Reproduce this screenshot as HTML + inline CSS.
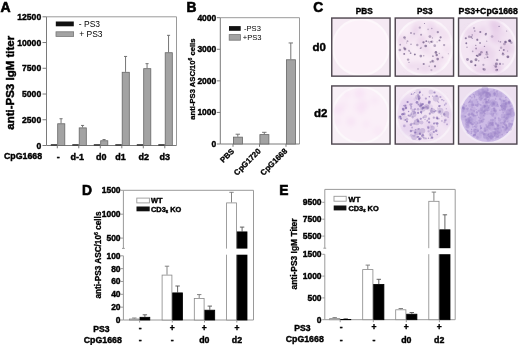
<!DOCTYPE html>
<html><head><meta charset="utf-8"><style>
html,body{margin:0;padding:0;background:#fff;}
svg{display:block;filter:blur(0.3px);}
</style></head><body>
<svg width="520" height="345" viewBox="0 0 520 345">
<rect width="520" height="345" fill="#fff"/>
<text x="0.6" y="11.7" font-family="Liberation Sans" font-weight="bold" stroke="#000" stroke-width="0.6" font-size="14" text-anchor="start" >A</text>
<line x1="46.5" y1="16.8" x2="46.5" y2="145.5" stroke="#7a7a7a" stroke-width="1"/>
<line x1="46.5" y1="16.8" x2="176.5" y2="16.8" stroke="#9a9a9a" stroke-width="1"/>
<line x1="176.5" y1="16.8" x2="176.5" y2="145.5" stroke="#9a9a9a" stroke-width="1"/>
<line x1="46.5" y1="145.5" x2="176.5" y2="145.5" stroke="#7a7a7a" stroke-width="1"/>
<line x1="42.5" y1="145.5" x2="46.5" y2="145.5" stroke="#7a7a7a" stroke-width="1"/>
<text x="41.2" y="148.6" font-family="Liberation Sans" font-weight="bold" stroke="#000" stroke-width="0.4" font-size="8.6" text-anchor="end" >0</text>
<line x1="42.5" y1="119.76" x2="46.5" y2="119.76" stroke="#7a7a7a" stroke-width="1"/>
<text x="41.2" y="122.86" font-family="Liberation Sans" font-weight="bold" stroke="#000" stroke-width="0.4" font-size="8.6" text-anchor="end" >2500</text>
<line x1="42.5" y1="94.02000000000001" x2="46.5" y2="94.02000000000001" stroke="#7a7a7a" stroke-width="1"/>
<text x="41.2" y="97.12" font-family="Liberation Sans" font-weight="bold" stroke="#000" stroke-width="0.4" font-size="8.6" text-anchor="end" >5000</text>
<line x1="42.5" y1="68.28" x2="46.5" y2="68.28" stroke="#7a7a7a" stroke-width="1"/>
<text x="41.2" y="71.38" font-family="Liberation Sans" font-weight="bold" stroke="#000" stroke-width="0.4" font-size="8.6" text-anchor="end" >7500</text>
<line x1="42.5" y1="42.540000000000006" x2="46.5" y2="42.540000000000006" stroke="#7a7a7a" stroke-width="1"/>
<text x="41.2" y="45.64000000000001" font-family="Liberation Sans" font-weight="bold" stroke="#000" stroke-width="0.4" font-size="8.6" text-anchor="end" >10000</text>
<line x1="42.5" y1="16.80000000000001" x2="46.5" y2="16.80000000000001" stroke="#7a7a7a" stroke-width="1"/>
<text x="41.2" y="19.900000000000013" font-family="Liberation Sans" font-weight="bold" stroke="#000" stroke-width="0.4" font-size="8.6" text-anchor="end" >12500</text>
<rect x="50.8" y="144.3" width="6.5" height="1.2" fill="#111" stroke="none" stroke-width="1"/>
<line x1="61.05" y1="118.7304" x2="61.05" y2="123.3636" stroke="#666" stroke-width="0.9"/>
<line x1="59.5" y1="118.7304" x2="62.599999999999994" y2="118.7304" stroke="#666" stroke-width="0.9"/>
<rect x="57.699999999999996" y="123.76360000000001" width="7.1" height="21.736399999999996" fill="#a3a3a3" stroke="#666" stroke-width="0.8"/>
<line x1="57.3" y1="145.5" x2="57.3" y2="148.3" stroke="#7a7a7a" stroke-width="1"/>
<text x="58.3" y="159.8" font-family="Liberation Sans" font-weight="bold" stroke="#000" stroke-width="0.4" font-size="9" text-anchor="middle" >-</text>
<rect x="72.3" y="144.3" width="6.5" height="1.2" fill="#111" stroke="none" stroke-width="1"/>
<line x1="82.55" y1="125.4228" x2="82.55" y2="127.482" stroke="#666" stroke-width="0.9"/>
<line x1="81.0" y1="125.4228" x2="84.1" y2="125.4228" stroke="#666" stroke-width="0.9"/>
<rect x="79.2" y="127.882" width="7.1" height="17.618000000000002" fill="#a3a3a3" stroke="#666" stroke-width="0.8"/>
<line x1="78.8" y1="145.5" x2="78.8" y2="148.3" stroke="#7a7a7a" stroke-width="1"/>
<text x="77.3" y="159.8" font-family="Liberation Sans" font-weight="bold" stroke="#000" stroke-width="0.4" font-size="9" text-anchor="middle" >d-1</text>
<rect x="93.8" y="144.3" width="6.5" height="1.2" fill="#111" stroke="none" stroke-width="1"/>
<line x1="104.05" y1="139.52832" x2="104.05" y2="140.352" stroke="#666" stroke-width="0.9"/>
<line x1="102.5" y1="139.52832" x2="105.6" y2="139.52832" stroke="#666" stroke-width="0.9"/>
<rect x="100.7" y="140.752" width="7.1" height="4.747999999999996" fill="#a3a3a3" stroke="#666" stroke-width="0.8"/>
<line x1="100.3" y1="145.5" x2="100.3" y2="148.3" stroke="#7a7a7a" stroke-width="1"/>
<text x="101.2" y="159.8" font-family="Liberation Sans" font-weight="bold" stroke="#000" stroke-width="0.4" font-size="9" text-anchor="middle" >d0</text>
<rect x="115.3" y="144.3" width="6.5" height="1.2" fill="#111" stroke="none" stroke-width="1"/>
<line x1="125.55" y1="56.43960000000001" x2="125.55" y2="71.8836" stroke="#666" stroke-width="0.9"/>
<line x1="124.0" y1="56.43960000000001" x2="127.1" y2="56.43960000000001" stroke="#666" stroke-width="0.9"/>
<rect x="122.2" y="72.2836" width="7.1" height="73.2164" fill="#a3a3a3" stroke="#666" stroke-width="0.8"/>
<line x1="121.8" y1="145.5" x2="121.8" y2="148.3" stroke="#7a7a7a" stroke-width="1"/>
<text x="120.5" y="159.8" font-family="Liberation Sans" font-weight="bold" stroke="#000" stroke-width="0.4" font-size="9" text-anchor="middle" >d1</text>
<rect x="136.8" y="144.3" width="6.5" height="1.2" fill="#111" stroke="none" stroke-width="1"/>
<line x1="147.05" y1="63.6468" x2="147.05" y2="68.28" stroke="#666" stroke-width="0.9"/>
<line x1="145.5" y1="63.6468" x2="148.60000000000002" y2="63.6468" stroke="#666" stroke-width="0.9"/>
<rect x="143.70000000000002" y="68.68" width="7.1" height="76.82" fill="#a3a3a3" stroke="#666" stroke-width="0.8"/>
<line x1="143.3" y1="145.5" x2="143.3" y2="148.3" stroke="#7a7a7a" stroke-width="1"/>
<text x="143.8" y="159.8" font-family="Liberation Sans" font-weight="bold" stroke="#000" stroke-width="0.4" font-size="9" text-anchor="middle" >d2</text>
<rect x="158.3" y="144.3" width="6.5" height="1.2" fill="#111" stroke="none" stroke-width="1"/>
<line x1="168.55" y1="35.332800000000006" x2="168.55" y2="52.321200000000005" stroke="#666" stroke-width="0.9"/>
<line x1="167.0" y1="35.332800000000006" x2="170.10000000000002" y2="35.332800000000006" stroke="#666" stroke-width="0.9"/>
<rect x="165.20000000000002" y="52.7212" width="7.1" height="92.77879999999999" fill="#a3a3a3" stroke="#666" stroke-width="0.8"/>
<line x1="164.8" y1="145.5" x2="164.8" y2="148.3" stroke="#7a7a7a" stroke-width="1"/>
<text x="164.8" y="159.8" font-family="Liberation Sans" font-weight="bold" stroke="#000" stroke-width="0.4" font-size="9" text-anchor="middle" >d3</text>
<text x="4" y="159.2" font-family="Liberation Sans" font-weight="bold" stroke="#000" stroke-width="0.4" font-size="8.8" text-anchor="start" >CpG1668</text>
<rect x="55.8" y="21.5" width="18" height="4.8" fill="#111" stroke="none" stroke-width="1"/>
<rect x="56" y="31.8" width="17.6" height="4.6" fill="#a3a3a3" stroke="#777" stroke-width="0.8"/>
<text x="78.8" y="26.6" font-family="Liberation Sans" font-size="8.5" text-anchor="start" >- PS3</text>
<text x="79.2" y="36.8" font-family="Liberation Sans" font-size="8.5" text-anchor="start" >+ PS3</text>
<text transform="translate(13.8,82.8) rotate(-90)" font-family="Liberation Sans" font-weight="bold" stroke="#000" stroke-width="0.45" font-size="11.5" text-anchor="middle">anti-PS3 IgM titer</text>
<text x="186.6" y="11.9" font-family="Liberation Sans" font-weight="bold" stroke="#000" stroke-width="0.6" font-size="13.8" text-anchor="start" >B</text>
<line x1="220.3" y1="17.7" x2="220.3" y2="144.0" stroke="#7a7a7a" stroke-width="1"/>
<line x1="220.3" y1="17.7" x2="299.5" y2="17.7" stroke="#9a9a9a" stroke-width="1"/>
<line x1="299.5" y1="17.7" x2="299.5" y2="144.0" stroke="#9a9a9a" stroke-width="1"/>
<line x1="220.3" y1="144.0" x2="299.5" y2="144.0" stroke="#7a7a7a" stroke-width="1"/>
<line x1="216.8" y1="144.0" x2="220.3" y2="144.0" stroke="#7a7a7a" stroke-width="1"/>
<text x="216.3" y="147.0" font-family="Liberation Sans" font-weight="bold" stroke="#000" stroke-width="0.4" font-size="8.5" text-anchor="end" >0</text>
<line x1="216.8" y1="112.425" x2="220.3" y2="112.425" stroke="#7a7a7a" stroke-width="1"/>
<text x="216.3" y="115.425" font-family="Liberation Sans" font-weight="bold" stroke="#000" stroke-width="0.4" font-size="8.5" text-anchor="end" >1000</text>
<line x1="216.8" y1="80.85" x2="220.3" y2="80.85" stroke="#7a7a7a" stroke-width="1"/>
<text x="216.3" y="83.85" font-family="Liberation Sans" font-weight="bold" stroke="#000" stroke-width="0.4" font-size="8.5" text-anchor="end" >2000</text>
<line x1="216.8" y1="49.275000000000006" x2="220.3" y2="49.275000000000006" stroke="#7a7a7a" stroke-width="1"/>
<text x="216.3" y="52.275000000000006" font-family="Liberation Sans" font-weight="bold" stroke="#000" stroke-width="0.4" font-size="8.5" text-anchor="end" >3000</text>
<line x1="216.8" y1="17.700000000000003" x2="220.3" y2="17.700000000000003" stroke="#7a7a7a" stroke-width="1"/>
<text x="216.3" y="20.700000000000003" font-family="Liberation Sans" font-weight="bold" stroke="#000" stroke-width="0.4" font-size="8.5" text-anchor="end" >4000</text>
<line x1="237.8" y1="134.21175" x2="237.8" y2="136.73775" stroke="#666" stroke-width="0.9"/>
<line x1="235.6" y1="134.21175" x2="240.0" y2="134.21175" stroke="#666" stroke-width="0.9"/>
<rect x="233.4" y="137.13775" width="9.0" height="6.862249999999994" fill="#a3a3a3" stroke="#666" stroke-width="0.8"/>
<line x1="233.0" y1="144.0" x2="233.0" y2="146.8" stroke="#7a7a7a" stroke-width="1"/>
<text transform="translate(234.8,151.7) rotate(-45)" font-family="Liberation Sans" font-weight="bold" stroke="#000" stroke-width="0.3" font-size="7.9" text-anchor="end">PBS</text>
<line x1="264.3" y1="132.31725" x2="264.3" y2="134.21175" stroke="#666" stroke-width="0.9"/>
<line x1="262.1" y1="132.31725" x2="266.5" y2="132.31725" stroke="#666" stroke-width="0.9"/>
<rect x="259.9" y="134.61175" width="9.0" height="9.388250000000005" fill="#a3a3a3" stroke="#666" stroke-width="0.8"/>
<line x1="259.5" y1="144.0" x2="259.5" y2="146.8" stroke="#7a7a7a" stroke-width="1"/>
<text transform="translate(261.3,151.7) rotate(-45)" font-family="Liberation Sans" font-weight="bold" stroke="#000" stroke-width="0.3" font-size="7.9" text-anchor="end">CpG1720</text>
<line x1="290.8" y1="42.959999999999994" x2="290.8" y2="59.37899999999999" stroke="#666" stroke-width="0.9"/>
<line x1="288.6" y1="42.959999999999994" x2="293.0" y2="42.959999999999994" stroke="#666" stroke-width="0.9"/>
<rect x="286.4" y="59.77899999999999" width="9.0" height="84.221" fill="#a3a3a3" stroke="#666" stroke-width="0.8"/>
<line x1="286.0" y1="144.0" x2="286.0" y2="146.8" stroke="#7a7a7a" stroke-width="1"/>
<text transform="translate(287.8,151.7) rotate(-45)" font-family="Liberation Sans" font-weight="bold" stroke="#000" stroke-width="0.3" font-size="7.9" text-anchor="end">CpG1668</text>
<rect x="229" y="26.1" width="11.7" height="4.7" fill="#111" stroke="none" stroke-width="1"/>
<rect x="229.2" y="34.6" width="11.3" height="5.6" fill="#a3a3a3" stroke="#777" stroke-width="0.8"/>
<text x="244" y="30.9" font-family="Liberation Sans" font-size="7.6" text-anchor="start" >-PS3</text>
<text x="242.8" y="40.2" font-family="Liberation Sans" font-size="7.6" text-anchor="start" >+PS3</text>
<text transform="translate(195.4,79.1) rotate(-90)" font-family="Liberation Sans" font-weight="bold" stroke="#000" stroke-width="0.3" font-size="7.65" text-anchor="middle">anti-PS3 ASC/10<tspan font-size="5" dy="-3">6</tspan><tspan dy="3"> cells</tspan></text>
<text x="313.3" y="12.2" font-family="Liberation Sans" font-weight="bold" stroke="#000" stroke-width="0.6" font-size="13.8" text-anchor="start" >C</text>
<text x="364.2" y="14.2" font-family="Liberation Sans" font-weight="bold" stroke="#000" stroke-width="0.4" font-size="8.2" text-anchor="middle" >PBS</text>
<text x="424.8" y="14.2" font-family="Liberation Sans" font-weight="bold" stroke="#000" stroke-width="0.4" font-size="8.2" text-anchor="middle" >PS3</text>
<text x="488.2" y="14.2" font-family="Liberation Sans" font-weight="bold" stroke="#000" stroke-width="0.4" font-size="8.7" text-anchor="middle" >PS3+CpG1668</text>
<text x="312.4" y="51.2" font-family="Liberation Sans" font-weight="bold" stroke="#000" stroke-width="0.4" font-size="11.5" text-anchor="start" >d0</text>
<text x="314.0" y="116.8" font-family="Liberation Sans" font-weight="bold" stroke="#000" stroke-width="0.4" font-size="11.5" text-anchor="start" >d2</text>
<defs><filter id="bl" x="-10%" y="-10%" width="120%" height="120%"><feGaussianBlur stdDeviation="0.7"/></filter><filter id="bl2" x="-20%" y="-20%" width="140%" height="140%"><feGaussianBlur stdDeviation="2.2"/></filter></defs>
<g>
<rect x="331.0" y="17.3" width="59.8" height="59.6" fill="#f5e9f3" stroke="none" stroke-width="1"/>
<g filter="url(#bl)">
<circle cx="360.9" cy="47.1" r="28.0" fill="#fcf1f9" stroke="#fdf7fb" stroke-width="2.2"/>
<g filter="url(#bl2)">
</g>
</g>
<rect x="331.75" y="18.05" width="58.3" height="58.1" fill="none" stroke="#4e474f" stroke-width="1.4"/>
</g>
<g>
<rect x="394.5" y="17.3" width="59.8" height="59.6" fill="#f3e6f2" stroke="none" stroke-width="1"/>
<g filter="url(#bl)">
<circle cx="424.4" cy="47.1" r="28.0" fill="#f8ecf6" stroke="#fbf5fa" stroke-width="2.2"/>
<g filter="url(#bl2)">
<circle cx="441.2" cy="58.9" r="4.51" fill="#e9d2ea" opacity="0.42"/>
<circle cx="429.7" cy="52.4" r="4.24" fill="#e9d2ea" opacity="0.36"/>
<circle cx="420.9" cy="41.8" r="4.67" fill="#e9d2ea" opacity="0.70"/>
<circle cx="446.9" cy="49.3" r="3.83" fill="#e9d2ea" opacity="0.41"/>
<circle cx="422.6" cy="38.0" r="3.64" fill="#e9d2ea" opacity="0.66"/>
<circle cx="425.7" cy="50.1" r="3.21" fill="#e9d2ea" opacity="0.31"/>
<circle cx="415.7" cy="28.9" r="4.03" fill="#e9d2ea" opacity="0.70"/>
<circle cx="433.1" cy="31.2" r="5.18" fill="#e9d2ea" opacity="0.62"/>
<circle cx="436.1" cy="67.4" r="4.79" fill="#e9d2ea" opacity="0.62"/>
<circle cx="437.1" cy="57.9" r="3.88" fill="#e9d2ea" opacity="0.51"/>
<circle cx="423.9" cy="68.3" r="4.00" fill="#e9d2ea" opacity="0.63"/>
<circle cx="417.1" cy="66.2" r="5.20" fill="#e9d2ea" opacity="0.48"/>
<circle cx="427.8" cy="68.1" r="4.67" fill="#e9d2ea" opacity="0.49"/>
<circle cx="410.5" cy="38.3" r="4.60" fill="#e9d2ea" opacity="0.37"/>
<circle cx="444.8" cy="35.5" r="5.23" fill="#e9d2ea" opacity="0.42"/>
<circle cx="424.6" cy="48.0" r="4.45" fill="#e9d2ea" opacity="0.54"/>
<circle cx="415.0" cy="32.5" r="4.04" fill="#e9d2ea" opacity="0.67"/>
<circle cx="430.6" cy="25.9" r="4.96" fill="#e9d2ea" opacity="0.59"/>
<circle cx="432.0" cy="35.8" r="3.18" fill="#e9d2ea" opacity="0.65"/>
<circle cx="404.7" cy="48.2" r="5.06" fill="#e9d2ea" opacity="0.40"/>
<circle cx="409.9" cy="66.1" r="3.77" fill="#e9d2ea" opacity="0.59"/>
<circle cx="401.0" cy="40.2" r="3.02" fill="#e9d2ea" opacity="0.57"/>
<circle cx="440.1" cy="30.0" r="3.05" fill="#e9d2ea" opacity="0.58"/>
<circle cx="418.7" cy="24.3" r="5.47" fill="#e9d2ea" opacity="0.36"/>
<circle cx="401.2" cy="39.3" r="4.35" fill="#e9d2ea" opacity="0.60"/>
</g>
<circle cx="405.1" cy="39.0" r="0.53" fill="#66507e" opacity="0.50"/>
<circle cx="437.7" cy="59.1" r="1.31" fill="#66507e" opacity="0.64"/>
<circle cx="442.5" cy="57.4" r="0.93" fill="#66507e" opacity="0.40"/>
<circle cx="432.4" cy="37.9" r="0.59" fill="#66507e" opacity="0.50"/>
<circle cx="428.6" cy="41.7" r="0.96" fill="#66507e" opacity="0.36"/>
<circle cx="429.7" cy="43.1" r="0.52" fill="#66507e" opacity="0.55"/>
<circle cx="404.2" cy="53.9" r="0.96" fill="#66507e" opacity="0.74"/>
<circle cx="411.0" cy="44.3" r="0.73" fill="#66507e" opacity="0.57"/>
<circle cx="430.6" cy="62.1" r="1.14" fill="#66507e" opacity="0.42"/>
<circle cx="420.6" cy="48.4" r="0.50" fill="#66507e" opacity="0.32"/>
<circle cx="419.8" cy="27.7" r="1.15" fill="#66507e" opacity="0.41"/>
<circle cx="411.0" cy="33.0" r="0.97" fill="#66507e" opacity="0.51"/>
<circle cx="414.9" cy="54.2" r="0.69" fill="#66507e" opacity="0.71"/>
<circle cx="421.1" cy="47.7" r="1.02" fill="#66507e" opacity="0.32"/>
<circle cx="420.3" cy="48.4" r="0.66" fill="#66507e" opacity="0.34"/>
<circle cx="439.5" cy="40.4" r="0.97" fill="#66507e" opacity="0.71"/>
<circle cx="429.9" cy="36.6" r="1.39" fill="#66507e" opacity="0.47"/>
<circle cx="404.5" cy="37.4" r="1.26" fill="#66507e" opacity="0.60"/>
<circle cx="400.2" cy="44.7" r="0.87" fill="#66507e" opacity="0.52"/>
<circle cx="409.8" cy="51.5" r="0.57" fill="#66507e" opacity="0.43"/>
<circle cx="418.0" cy="68.9" r="0.57" fill="#66507e" opacity="0.64"/>
<circle cx="409.0" cy="50.7" r="0.85" fill="#66507e" opacity="0.51"/>
<circle cx="437.1" cy="41.9" r="0.61" fill="#66507e" opacity="0.35"/>
<circle cx="431.4" cy="70.1" r="1.12" fill="#66507e" opacity="0.31"/>
<circle cx="432.4" cy="61.0" r="1.15" fill="#66507e" opacity="0.52"/>
<circle cx="417.3" cy="45.0" r="1.22" fill="#66507e" opacity="0.42"/>
<circle cx="425.7" cy="46.0" r="1.36" fill="#66507e" opacity="0.66"/>
<circle cx="414.2" cy="33.7" r="0.94" fill="#66507e" opacity="0.42"/>
<circle cx="420.8" cy="56.1" r="1.33" fill="#66507e" opacity="0.56"/>
<circle cx="406.7" cy="42.9" r="0.56" fill="#66507e" opacity="0.34"/>
<circle cx="431.8" cy="28.5" r="0.77" fill="#66507e" opacity="0.40"/>
<circle cx="432.9" cy="56.2" r="0.89" fill="#66507e" opacity="0.54"/>
<circle cx="405.0" cy="49.1" r="1.35" fill="#66507e" opacity="0.64"/>
<circle cx="404.2" cy="47.9" r="1.14" fill="#66507e" opacity="0.42"/>
<circle cx="444.1" cy="45.1" r="1.13" fill="#66507e" opacity="0.48"/>
<circle cx="428.1" cy="29.3" r="0.90" fill="#66507e" opacity="0.31"/>
<circle cx="429.2" cy="66.2" r="0.66" fill="#66507e" opacity="0.53"/>
<circle cx="423.5" cy="42.3" r="1.14" fill="#66507e" opacity="0.72"/>
<circle cx="434.7" cy="45.7" r="1.37" fill="#66507e" opacity="0.45"/>
<circle cx="436.7" cy="55.0" r="1.19" fill="#66507e" opacity="0.68"/>
<circle cx="410.6" cy="53.2" r="0.86" fill="#66507e" opacity="0.60"/>
<circle cx="448.3" cy="53.8" r="0.51" fill="#66507e" opacity="0.51"/>
<circle cx="435.0" cy="66.3" r="1.09" fill="#66507e" opacity="0.67"/>
<circle cx="435.9" cy="52.4" r="1.31" fill="#66507e" opacity="0.70"/>
<circle cx="437.8" cy="32.1" r="1.17" fill="#66507e" opacity="0.56"/>
<circle cx="409.0" cy="62.3" r="0.62" fill="#66507e" opacity="0.58"/>
<circle cx="421.1" cy="34.8" r="1.01" fill="#66507e" opacity="0.51"/>
<circle cx="423.7" cy="64.0" r="1.09" fill="#66507e" opacity="0.64"/>
<circle cx="423.7" cy="55.8" r="0.80" fill="#66507e" opacity="0.42"/>
<circle cx="424.5" cy="23.5" r="0.57" fill="#66507e" opacity="0.64"/>
<circle cx="408.1" cy="59.6" r="1.21" fill="#66507e" opacity="0.48"/>
<circle cx="433.1" cy="61.5" r="1.28" fill="#66507e" opacity="0.36"/>
<circle cx="407.5" cy="41.2" r="0.92" fill="#66507e" opacity="0.43"/>
<circle cx="399.9" cy="50.0" r="1.37" fill="#66507e" opacity="0.46"/>
<circle cx="426.3" cy="41.2" r="0.90" fill="#66507e" opacity="0.69"/>
<circle cx="414.8" cy="54.6" r="0.94" fill="#66507e" opacity="0.54"/>
<circle cx="440.6" cy="37.3" r="1.08" fill="#66507e" opacity="0.66"/>
<circle cx="432.1" cy="41.7" r="1.26" fill="#66507e" opacity="0.34"/>
<circle cx="431.1" cy="41.7" r="0.98" fill="#66507e" opacity="0.68"/>
<circle cx="439.3" cy="53.5" r="0.78" fill="#66507e" opacity="0.40"/>
</g>
<rect x="395.25" y="18.05" width="58.3" height="58.1" fill="none" stroke="#4e474f" stroke-width="1.4"/>
</g>
<g>
<rect x="457.8" y="17.3" width="59.8" height="59.6" fill="#efe2f0" stroke="none" stroke-width="1"/>
<g filter="url(#bl)">
<circle cx="487.7" cy="47.1" r="28.0" fill="#f3e5f3" stroke="#f9f1f9" stroke-width="2.2"/>
<g filter="url(#bl2)">
<circle cx="474.6" cy="49.3" r="3.61" fill="#e6cce8" opacity="0.54"/>
<circle cx="494.0" cy="25.4" r="2.54" fill="#e6cce8" opacity="0.63"/>
<circle cx="475.7" cy="33.8" r="5.49" fill="#e6cce8" opacity="0.49"/>
<circle cx="504.5" cy="45.9" r="4.42" fill="#e6cce8" opacity="0.36"/>
<circle cx="494.4" cy="65.5" r="4.07" fill="#e6cce8" opacity="0.60"/>
<circle cx="496.3" cy="25.3" r="4.77" fill="#e6cce8" opacity="0.54"/>
<circle cx="506.0" cy="45.7" r="4.66" fill="#e6cce8" opacity="0.65"/>
<circle cx="498.4" cy="68.2" r="3.68" fill="#e6cce8" opacity="0.62"/>
<circle cx="484.9" cy="68.9" r="5.14" fill="#e6cce8" opacity="0.34"/>
<circle cx="469.5" cy="32.9" r="5.40" fill="#e6cce8" opacity="0.47"/>
<circle cx="494.0" cy="37.2" r="4.02" fill="#e6cce8" opacity="0.45"/>
<circle cx="480.2" cy="51.4" r="4.25" fill="#e6cce8" opacity="0.66"/>
<circle cx="496.8" cy="68.5" r="5.07" fill="#e6cce8" opacity="0.70"/>
<circle cx="496.3" cy="30.3" r="5.08" fill="#e6cce8" opacity="0.69"/>
<circle cx="507.9" cy="50.6" r="4.64" fill="#e6cce8" opacity="0.38"/>
<circle cx="504.3" cy="50.8" r="3.35" fill="#e6cce8" opacity="0.33"/>
<circle cx="483.2" cy="29.6" r="3.38" fill="#e6cce8" opacity="0.61"/>
<circle cx="493.4" cy="24.3" r="4.66" fill="#e6cce8" opacity="0.43"/>
<circle cx="488.0" cy="72.0" r="3.43" fill="#e6cce8" opacity="0.33"/>
<circle cx="492.7" cy="23.7" r="3.09" fill="#e6cce8" opacity="0.46"/>
<circle cx="493.2" cy="29.9" r="2.63" fill="#e6cce8" opacity="0.65"/>
<circle cx="478.4" cy="70.0" r="5.19" fill="#e6cce8" opacity="0.45"/>
<circle cx="485.7" cy="48.1" r="4.43" fill="#e6cce8" opacity="0.54"/>
<circle cx="490.7" cy="53.1" r="5.32" fill="#e6cce8" opacity="0.50"/>
<circle cx="484.3" cy="58.1" r="3.21" fill="#e6cce8" opacity="0.42"/>
<circle cx="511.6" cy="48.2" r="4.15" fill="#e6cce8" opacity="0.30"/>
<circle cx="483.5" cy="51.1" r="2.56" fill="#e6cce8" opacity="0.55"/>
<circle cx="494.3" cy="25.1" r="4.38" fill="#e6cce8" opacity="0.49"/>
<circle cx="496.7" cy="39.7" r="4.62" fill="#e6cce8" opacity="0.60"/>
<circle cx="496.5" cy="70.3" r="3.25" fill="#e6cce8" opacity="0.48"/>
<circle cx="492.3" cy="38.1" r="3.59" fill="#e6cce8" opacity="0.43"/>
<circle cx="481.2" cy="51.9" r="3.40" fill="#e6cce8" opacity="0.45"/>
<circle cx="491.2" cy="58.9" r="3.43" fill="#e6cce8" opacity="0.39"/>
<circle cx="502.9" cy="34.0" r="3.06" fill="#e6cce8" opacity="0.47"/>
<circle cx="497.6" cy="27.2" r="3.47" fill="#e6cce8" opacity="0.43"/>
</g>
<circle cx="504.4" cy="44.0" r="1.36" fill="#60497a" opacity="0.38"/>
<circle cx="479.5" cy="54.6" r="1.38" fill="#60497a" opacity="0.50"/>
<circle cx="474.0" cy="28.1" r="1.03" fill="#60497a" opacity="0.39"/>
<circle cx="503.0" cy="64.0" r="0.68" fill="#60497a" opacity="0.43"/>
<circle cx="503.1" cy="54.2" r="1.31" fill="#60497a" opacity="0.46"/>
<circle cx="469.2" cy="36.7" r="1.29" fill="#60497a" opacity="0.42"/>
<circle cx="480.0" cy="42.9" r="0.92" fill="#60497a" opacity="0.48"/>
<circle cx="484.4" cy="69.6" r="1.43" fill="#60497a" opacity="0.40"/>
<circle cx="500.0" cy="63.9" r="1.16" fill="#60497a" opacity="0.53"/>
<circle cx="477.2" cy="39.2" r="0.73" fill="#60497a" opacity="0.33"/>
<circle cx="492.1" cy="36.5" r="1.31" fill="#60497a" opacity="0.32"/>
<circle cx="507.9" cy="56.8" r="1.42" fill="#60497a" opacity="0.70"/>
<circle cx="507.7" cy="50.9" r="0.51" fill="#60497a" opacity="0.64"/>
<circle cx="471.3" cy="37.1" r="1.16" fill="#60497a" opacity="0.54"/>
<circle cx="483.4" cy="69.1" r="1.11" fill="#60497a" opacity="0.45"/>
<circle cx="475.3" cy="65.2" r="0.98" fill="#60497a" opacity="0.65"/>
<circle cx="480.3" cy="32.0" r="1.03" fill="#60497a" opacity="0.67"/>
<circle cx="471.3" cy="61.7" r="1.42" fill="#60497a" opacity="0.66"/>
<circle cx="494.1" cy="65.2" r="0.55" fill="#60497a" opacity="0.42"/>
<circle cx="476.1" cy="48.5" r="0.92" fill="#60497a" opacity="0.51"/>
<circle cx="467.0" cy="47.2" r="0.82" fill="#60497a" opacity="0.44"/>
<circle cx="480.3" cy="54.4" r="1.09" fill="#60497a" opacity="0.46"/>
<circle cx="472.3" cy="38.5" r="0.62" fill="#60497a" opacity="0.55"/>
<circle cx="498.5" cy="41.1" r="0.58" fill="#60497a" opacity="0.38"/>
<circle cx="481.4" cy="52.3" r="1.28" fill="#60497a" opacity="0.47"/>
<circle cx="502.8" cy="53.2" r="0.93" fill="#60497a" opacity="0.47"/>
<circle cx="487.5" cy="57.2" r="0.92" fill="#60497a" opacity="0.61"/>
<circle cx="485.7" cy="34.4" r="1.04" fill="#60497a" opacity="0.61"/>
<circle cx="466.3" cy="43.3" r="0.93" fill="#60497a" opacity="0.70"/>
<circle cx="509.5" cy="40.8" r="1.40" fill="#60497a" opacity="0.66"/>
<circle cx="475.8" cy="45.3" r="0.62" fill="#60497a" opacity="0.67"/>
<circle cx="495.8" cy="66.5" r="1.29" fill="#60497a" opacity="0.60"/>
<circle cx="499.4" cy="50.3" r="0.60" fill="#60497a" opacity="0.56"/>
<circle cx="506.7" cy="31.1" r="0.52" fill="#60497a" opacity="0.68"/>
<circle cx="496.4" cy="63.9" r="1.45" fill="#60497a" opacity="0.56"/>
<circle cx="501.1" cy="47.7" r="1.22" fill="#60497a" opacity="0.35"/>
<circle cx="465.8" cy="38.3" r="1.06" fill="#60497a" opacity="0.67"/>
<circle cx="474.8" cy="31.1" r="0.75" fill="#60497a" opacity="0.58"/>
<circle cx="500.4" cy="41.8" r="0.87" fill="#60497a" opacity="0.48"/>
<circle cx="480.2" cy="43.0" r="0.58" fill="#60497a" opacity="0.53"/>
<circle cx="511.4" cy="42.7" r="1.25" fill="#60497a" opacity="0.37"/>
<circle cx="497.2" cy="59.9" r="1.17" fill="#60497a" opacity="0.53"/>
<circle cx="486.9" cy="54.2" r="1.40" fill="#60497a" opacity="0.37"/>
<circle cx="467.5" cy="59.5" r="1.42" fill="#60497a" opacity="0.53"/>
<circle cx="484.9" cy="58.0" r="0.69" fill="#60497a" opacity="0.42"/>
<circle cx="472.7" cy="51.4" r="0.81" fill="#60497a" opacity="0.40"/>
<circle cx="497.3" cy="69.8" r="0.80" fill="#60497a" opacity="0.62"/>
<circle cx="483.4" cy="64.8" r="1.08" fill="#60497a" opacity="0.42"/>
<circle cx="486.7" cy="41.2" r="0.67" fill="#60497a" opacity="0.46"/>
<circle cx="478.8" cy="60.8" r="0.64" fill="#60497a" opacity="0.75"/>
<circle cx="486.7" cy="52.1" r="0.97" fill="#60497a" opacity="0.68"/>
<circle cx="503.8" cy="50.0" r="0.98" fill="#60497a" opacity="0.62"/>
<circle cx="505.5" cy="42.1" r="1.23" fill="#60497a" opacity="0.73"/>
<circle cx="486.1" cy="33.6" r="0.73" fill="#60497a" opacity="0.62"/>
<circle cx="496.5" cy="70.0" r="1.35" fill="#60497a" opacity="0.41"/>
<circle cx="472.2" cy="35.0" r="0.69" fill="#60497a" opacity="0.62"/>
<circle cx="475.5" cy="65.4" r="0.81" fill="#60497a" opacity="0.49"/>
<circle cx="499.1" cy="26.4" r="0.59" fill="#60497a" opacity="0.68"/>
<circle cx="477.3" cy="39.9" r="1.08" fill="#60497a" opacity="0.60"/>
<circle cx="484.5" cy="46.4" r="0.71" fill="#60497a" opacity="0.56"/>
<circle cx="510.5" cy="41.6" r="1.04" fill="#60497a" opacity="0.35"/>
<circle cx="476.4" cy="55.4" r="0.61" fill="#60497a" opacity="0.70"/>
<circle cx="509.8" cy="40.8" r="1.27" fill="#60497a" opacity="0.64"/>
<circle cx="477.5" cy="55.9" r="1.15" fill="#60497a" opacity="0.66"/>
<circle cx="476.0" cy="59.8" r="1.46" fill="#60497a" opacity="0.60"/>
</g>
<rect x="458.55" y="18.05" width="58.3" height="58.1" fill="none" stroke="#4e474f" stroke-width="1.4"/>
</g>
<g>
<rect x="331.0" y="85.2" width="59.8" height="59.6" fill="#f8f0f7" stroke="none" stroke-width="1"/>
<g filter="url(#bl)">
<circle cx="360.9" cy="115.0" r="28.0" fill="#faeff8" stroke="#fcf8fb" stroke-width="2.2"/>
<g filter="url(#bl2)">
<circle cx="347.2" cy="94.4" r="3.69" fill="#f6dff4" opacity="0.36"/>
<circle cx="338.4" cy="109.9" r="5.25" fill="#f6dff4" opacity="0.62"/>
<circle cx="374.7" cy="100.5" r="4.11" fill="#f6dff4" opacity="0.41"/>
<circle cx="378.0" cy="130.9" r="4.90" fill="#f6dff4" opacity="0.38"/>
<circle cx="351.0" cy="121.6" r="4.70" fill="#f6dff4" opacity="0.64"/>
<circle cx="366.4" cy="123.9" r="4.02" fill="#f6dff4" opacity="0.37"/>
<circle cx="359.5" cy="93.6" r="5.30" fill="#f6dff4" opacity="0.65"/>
<circle cx="363.4" cy="104.6" r="5.23" fill="#f6dff4" opacity="0.53"/>
<circle cx="361.3" cy="110.5" r="4.30" fill="#f6dff4" opacity="0.47"/>
<circle cx="343.3" cy="104.9" r="4.94" fill="#f6dff4" opacity="0.32"/>
<circle cx="337.3" cy="121.6" r="3.34" fill="#f6dff4" opacity="0.51"/>
<circle cx="359.4" cy="106.8" r="5.49" fill="#f6dff4" opacity="0.38"/>
</g>
</g>
<rect x="331.75" y="85.95" width="58.3" height="58.1" fill="none" stroke="#4e474f" stroke-width="1.4"/>
</g>
<g>
<rect x="394.5" y="85.2" width="59.8" height="59.6" fill="#f3e7f3" stroke="none" stroke-width="1"/>
<g filter="url(#bl)">
<circle cx="424.4" cy="115.0" r="28.0" fill="#f2e4f3" stroke="#f8f1f8" stroke-width="2.2"/>
<g filter="url(#bl2)">
<circle cx="430.5" cy="127.1" r="4.89" fill="#e4d0ee" opacity="0.68"/>
<circle cx="436.4" cy="136.1" r="2.59" fill="#e4d0ee" opacity="0.49"/>
<circle cx="446.6" cy="122.4" r="5.20" fill="#e4d0ee" opacity="0.35"/>
<circle cx="422.9" cy="102.3" r="4.13" fill="#e4d0ee" opacity="0.53"/>
<circle cx="413.4" cy="135.8" r="4.80" fill="#e4d0ee" opacity="0.36"/>
<circle cx="439.3" cy="96.9" r="4.35" fill="#e4d0ee" opacity="0.35"/>
<circle cx="409.9" cy="100.8" r="5.45" fill="#e4d0ee" opacity="0.65"/>
<circle cx="426.4" cy="123.9" r="3.11" fill="#e4d0ee" opacity="0.68"/>
<circle cx="444.1" cy="104.9" r="3.58" fill="#e4d0ee" opacity="0.37"/>
<circle cx="414.5" cy="120.2" r="2.51" fill="#e4d0ee" opacity="0.57"/>
<circle cx="416.3" cy="105.5" r="4.96" fill="#e4d0ee" opacity="0.49"/>
<circle cx="415.2" cy="114.1" r="4.61" fill="#e4d0ee" opacity="0.32"/>
<circle cx="436.9" cy="132.2" r="2.55" fill="#e4d0ee" opacity="0.62"/>
<circle cx="417.7" cy="118.9" r="2.53" fill="#e4d0ee" opacity="0.32"/>
<circle cx="409.2" cy="127.8" r="5.29" fill="#e4d0ee" opacity="0.68"/>
<circle cx="416.6" cy="107.7" r="4.07" fill="#e4d0ee" opacity="0.61"/>
<circle cx="404.8" cy="127.4" r="4.89" fill="#e4d0ee" opacity="0.64"/>
<circle cx="404.0" cy="107.0" r="4.33" fill="#e4d0ee" opacity="0.67"/>
<circle cx="416.4" cy="136.2" r="4.14" fill="#e4d0ee" opacity="0.42"/>
<circle cx="415.2" cy="98.9" r="2.73" fill="#e4d0ee" opacity="0.36"/>
<circle cx="448.7" cy="116.7" r="3.72" fill="#e4d0ee" opacity="0.39"/>
<circle cx="429.1" cy="131.3" r="3.87" fill="#e4d0ee" opacity="0.47"/>
<circle cx="401.0" cy="114.7" r="5.02" fill="#e4d0ee" opacity="0.35"/>
<circle cx="430.9" cy="129.4" r="2.82" fill="#e4d0ee" opacity="0.47"/>
<circle cx="406.9" cy="132.2" r="3.38" fill="#e4d0ee" opacity="0.48"/>
<circle cx="448.2" cy="112.7" r="3.96" fill="#e4d0ee" opacity="0.59"/>
<circle cx="423.4" cy="104.6" r="3.71" fill="#e4d0ee" opacity="0.36"/>
<circle cx="447.4" cy="121.3" r="4.00" fill="#e4d0ee" opacity="0.44"/>
<circle cx="403.9" cy="103.6" r="4.85" fill="#e4d0ee" opacity="0.65"/>
<circle cx="417.5" cy="129.3" r="4.82" fill="#e4d0ee" opacity="0.58"/>
</g>
<circle cx="432.6" cy="128.0" r="2.23" fill="#7d64ac" opacity="0.28"/>
<circle cx="413.4" cy="114.3" r="3.04" fill="#7d64ac" opacity="0.27"/>
<circle cx="414.1" cy="137.3" r="2.80" fill="#7d64ac" opacity="0.25"/>
<circle cx="400.0" cy="117.3" r="2.00" fill="#7d64ac" opacity="0.27"/>
<circle cx="422.5" cy="130.8" r="2.79" fill="#7d64ac" opacity="0.30"/>
<circle cx="416.8" cy="122.2" r="2.98" fill="#7d64ac" opacity="0.31"/>
<circle cx="416.9" cy="132.1" r="3.24" fill="#7d64ac" opacity="0.27"/>
<circle cx="425.3" cy="116.5" r="1.83" fill="#7d64ac" opacity="0.31"/>
<circle cx="446.3" cy="113.9" r="2.88" fill="#7d64ac" opacity="0.28"/>
<circle cx="435.9" cy="98.6" r="3.06" fill="#7d64ac" opacity="0.25"/>
<circle cx="432.7" cy="111.0" r="2.75" fill="#7d64ac" opacity="0.29"/>
<circle cx="431.2" cy="126.0" r="1.56" fill="#7d64ac" opacity="0.14"/>
<circle cx="421.5" cy="122.5" r="1.94" fill="#7d64ac" opacity="0.27"/>
<circle cx="430.9" cy="92.1" r="2.44" fill="#7d64ac" opacity="0.16"/>
<circle cx="415.3" cy="99.1" r="1.89" fill="#7d64ac" opacity="0.11"/>
<circle cx="422.7" cy="109.0" r="2.72" fill="#7d64ac" opacity="0.25"/>
<circle cx="411.3" cy="135.2" r="1.50" fill="#7d64ac" opacity="0.20"/>
<circle cx="413.3" cy="110.5" r="1.73" fill="#7d64ac" opacity="0.31"/>
<circle cx="418.1" cy="91.8" r="2.73" fill="#7d64ac" opacity="0.12"/>
<circle cx="426.7" cy="107.0" r="2.66" fill="#7d64ac" opacity="0.34"/>
<circle cx="440.3" cy="111.0" r="3.13" fill="#7d64ac" opacity="0.26"/>
<circle cx="417.9" cy="97.1" r="2.69" fill="#7d64ac" opacity="0.24"/>
<circle cx="429.8" cy="107.6" r="3.29" fill="#7d64ac" opacity="0.10"/>
<circle cx="404.8" cy="118.3" r="2.73" fill="#7d64ac" opacity="0.14"/>
<circle cx="430.9" cy="134.6" r="2.25" fill="#7d64ac" opacity="0.21"/>
<circle cx="410.7" cy="104.6" r="1.38" fill="#7d64ac" opacity="0.47"/>
<circle cx="429.2" cy="103.0" r="1.38" fill="#7d64ac" opacity="0.52"/>
<circle cx="420.2" cy="106.0" r="1.39" fill="#7d64ac" opacity="0.52"/>
<circle cx="413.7" cy="113.8" r="0.61" fill="#7d64ac" opacity="0.58"/>
<circle cx="421.6" cy="104.7" r="1.20" fill="#7d64ac" opacity="0.67"/>
<circle cx="400.1" cy="116.6" r="0.75" fill="#7d64ac" opacity="0.72"/>
<circle cx="438.5" cy="102.3" r="0.74" fill="#7d64ac" opacity="0.37"/>
<circle cx="429.8" cy="113.7" r="1.08" fill="#7d64ac" opacity="0.57"/>
<circle cx="436.6" cy="95.9" r="1.18" fill="#7d64ac" opacity="0.44"/>
<circle cx="426.1" cy="106.8" r="0.77" fill="#7d64ac" opacity="0.54"/>
<circle cx="422.6" cy="108.1" r="1.17" fill="#7d64ac" opacity="0.57"/>
<circle cx="422.2" cy="135.8" r="1.30" fill="#7d64ac" opacity="0.55"/>
<circle cx="420.8" cy="118.8" r="1.14" fill="#7d64ac" opacity="0.58"/>
<circle cx="423.5" cy="135.6" r="0.85" fill="#7d64ac" opacity="0.48"/>
<circle cx="442.0" cy="99.8" r="0.77" fill="#7d64ac" opacity="0.67"/>
<circle cx="434.1" cy="111.6" r="0.76" fill="#7d64ac" opacity="0.65"/>
<circle cx="423.3" cy="117.5" r="0.95" fill="#7d64ac" opacity="0.45"/>
<circle cx="407.1" cy="119.3" r="1.23" fill="#7d64ac" opacity="0.33"/>
<circle cx="410.9" cy="131.0" r="1.21" fill="#7d64ac" opacity="0.60"/>
<circle cx="434.5" cy="92.4" r="1.26" fill="#7d64ac" opacity="0.40"/>
<circle cx="431.7" cy="137.6" r="1.14" fill="#7d64ac" opacity="0.36"/>
<circle cx="414.0" cy="135.9" r="0.63" fill="#7d64ac" opacity="0.57"/>
<circle cx="420.1" cy="98.1" r="1.06" fill="#7d64ac" opacity="0.32"/>
<circle cx="404.8" cy="109.0" r="0.56" fill="#7d64ac" opacity="0.33"/>
<circle cx="428.2" cy="127.1" r="1.29" fill="#7d64ac" opacity="0.36"/>
<circle cx="421.0" cy="105.7" r="1.04" fill="#7d64ac" opacity="0.52"/>
<circle cx="446.3" cy="108.7" r="0.55" fill="#7d64ac" opacity="0.61"/>
<circle cx="407.0" cy="121.6" r="0.96" fill="#7d64ac" opacity="0.71"/>
<circle cx="427.1" cy="121.0" r="0.74" fill="#7d64ac" opacity="0.55"/>
<circle cx="412.1" cy="127.5" r="0.97" fill="#7d64ac" opacity="0.36"/>
<circle cx="411.1" cy="108.6" r="1.16" fill="#7d64ac" opacity="0.38"/>
<circle cx="435.1" cy="122.8" r="0.58" fill="#7d64ac" opacity="0.60"/>
<circle cx="429.1" cy="101.9" r="1.29" fill="#7d64ac" opacity="0.52"/>
<circle cx="415.6" cy="129.8" r="0.53" fill="#7d64ac" opacity="0.63"/>
<circle cx="447.0" cy="124.1" r="0.70" fill="#7d64ac" opacity="0.35"/>
<circle cx="440.4" cy="97.0" r="1.06" fill="#7d64ac" opacity="0.46"/>
<circle cx="411.2" cy="106.7" r="1.05" fill="#7d64ac" opacity="0.46"/>
<circle cx="418.7" cy="96.8" r="1.25" fill="#7d64ac" opacity="0.59"/>
<circle cx="439.6" cy="111.7" r="1.27" fill="#7d64ac" opacity="0.53"/>
<circle cx="429.0" cy="118.7" r="1.17" fill="#7d64ac" opacity="0.48"/>
<circle cx="443.9" cy="114.0" r="1.18" fill="#7d64ac" opacity="0.30"/>
<circle cx="422.9" cy="134.5" r="1.06" fill="#7d64ac" opacity="0.49"/>
<circle cx="422.7" cy="95.0" r="0.64" fill="#7d64ac" opacity="0.37"/>
<circle cx="418.1" cy="109.3" r="1.29" fill="#7d64ac" opacity="0.37"/>
<circle cx="412.1" cy="103.9" r="0.65" fill="#7d64ac" opacity="0.43"/>
<circle cx="411.2" cy="114.1" r="0.53" fill="#7d64ac" opacity="0.72"/>
<circle cx="417.8" cy="136.9" r="1.12" fill="#7d64ac" opacity="0.60"/>
<circle cx="423.0" cy="137.3" r="0.61" fill="#7d64ac" opacity="0.60"/>
<circle cx="414.0" cy="123.7" r="1.16" fill="#7d64ac" opacity="0.37"/>
<circle cx="419.5" cy="138.7" r="0.83" fill="#7d64ac" opacity="0.44"/>
<circle cx="422.8" cy="104.2" r="1.16" fill="#7d64ac" opacity="0.62"/>
<circle cx="407.6" cy="102.0" r="1.10" fill="#7d64ac" opacity="0.72"/>
<circle cx="431.7" cy="111.5" r="1.38" fill="#7d64ac" opacity="0.30"/>
<circle cx="419.9" cy="92.2" r="0.99" fill="#7d64ac" opacity="0.75"/>
<circle cx="425.3" cy="107.5" r="0.58" fill="#7d64ac" opacity="0.33"/>
<circle cx="444.3" cy="114.6" r="1.34" fill="#7d64ac" opacity="0.32"/>
<circle cx="419.3" cy="93.0" r="0.73" fill="#7d64ac" opacity="0.48"/>
<circle cx="414.7" cy="92.6" r="0.53" fill="#7d64ac" opacity="0.74"/>
<circle cx="408.4" cy="115.4" r="0.86" fill="#7d64ac" opacity="0.54"/>
<circle cx="403.6" cy="105.7" r="0.60" fill="#7d64ac" opacity="0.54"/>
<circle cx="445.5" cy="119.9" r="1.27" fill="#7d64ac" opacity="0.40"/>
<circle cx="400.3" cy="117.0" r="0.94" fill="#7d64ac" opacity="0.56"/>
<circle cx="418.2" cy="121.3" r="1.15" fill="#7d64ac" opacity="0.71"/>
<circle cx="414.8" cy="112.5" r="1.24" fill="#7d64ac" opacity="0.40"/>
<circle cx="405.2" cy="105.6" r="0.58" fill="#7d64ac" opacity="0.65"/>
<circle cx="440.4" cy="105.6" r="0.62" fill="#7d64ac" opacity="0.34"/>
<circle cx="411.6" cy="94.2" r="0.89" fill="#7d64ac" opacity="0.56"/>
<circle cx="434.4" cy="92.4" r="0.68" fill="#7d64ac" opacity="0.43"/>
<circle cx="418.1" cy="94.9" r="0.88" fill="#7d64ac" opacity="0.44"/>
<circle cx="437.0" cy="117.8" r="1.31" fill="#7d64ac" opacity="0.59"/>
<circle cx="437.4" cy="118.7" r="0.90" fill="#7d64ac" opacity="0.67"/>
<circle cx="432.2" cy="137.7" r="1.16" fill="#7d64ac" opacity="0.62"/>
<circle cx="412.8" cy="130.6" r="0.84" fill="#7d64ac" opacity="0.36"/>
<circle cx="412.5" cy="123.8" r="0.76" fill="#7d64ac" opacity="0.33"/>
<circle cx="437.6" cy="117.9" r="0.52" fill="#7d64ac" opacity="0.32"/>
<circle cx="405.9" cy="107.9" r="1.27" fill="#7d64ac" opacity="0.73"/>
<circle cx="430.0" cy="101.6" r="0.89" fill="#7d64ac" opacity="0.46"/>
<circle cx="428.6" cy="131.3" r="1.15" fill="#7d64ac" opacity="0.34"/>
<circle cx="425.9" cy="98.6" r="1.14" fill="#7d64ac" opacity="0.50"/>
<circle cx="405.3" cy="105.9" r="1.32" fill="#7d64ac" opacity="0.51"/>
<circle cx="421.1" cy="112.1" r="1.19" fill="#7d64ac" opacity="0.72"/>
<circle cx="426.0" cy="138.5" r="1.04" fill="#7d64ac" opacity="0.35"/>
<circle cx="440.1" cy="111.0" r="0.55" fill="#7d64ac" opacity="0.74"/>
<circle cx="401.0" cy="118.8" r="0.93" fill="#7d64ac" opacity="0.70"/>
<circle cx="419.0" cy="100.8" r="0.75" fill="#7d64ac" opacity="0.39"/>
<circle cx="427.5" cy="107.8" r="1.18" fill="#7d64ac" opacity="0.41"/>
<circle cx="417.0" cy="102.4" r="1.38" fill="#7d64ac" opacity="0.68"/>
<circle cx="441.9" cy="120.9" r="0.86" fill="#7d64ac" opacity="0.36"/>
<circle cx="441.0" cy="114.5" r="0.53" fill="#7d64ac" opacity="0.38"/>
<circle cx="404.3" cy="125.9" r="1.31" fill="#7d64ac" opacity="0.39"/>
<circle cx="439.3" cy="106.2" r="1.11" fill="#7d64ac" opacity="0.69"/>
<circle cx="430.6" cy="130.0" r="0.84" fill="#7d64ac" opacity="0.30"/>
<circle cx="425.0" cy="119.3" r="0.67" fill="#7d64ac" opacity="0.48"/>
<circle cx="415.0" cy="109.1" r="0.93" fill="#7d64ac" opacity="0.62"/>
<circle cx="419.4" cy="139.1" r="1.23" fill="#7d64ac" opacity="0.72"/>
<circle cx="434.0" cy="123.5" r="0.98" fill="#7d64ac" opacity="0.66"/>
<circle cx="417.5" cy="119.7" r="1.11" fill="#7d64ac" opacity="0.53"/>
<circle cx="413.6" cy="93.9" r="0.58" fill="#7d64ac" opacity="0.46"/>
<circle cx="428.4" cy="128.0" r="1.14" fill="#7d64ac" opacity="0.44"/>
<circle cx="445.9" cy="103.7" r="1.14" fill="#7d64ac" opacity="0.33"/>
<circle cx="437.1" cy="123.5" r="1.36" fill="#7d64ac" opacity="0.70"/>
<circle cx="433.8" cy="131.9" r="1.16" fill="#7d64ac" opacity="0.57"/>
<circle cx="409.8" cy="115.8" r="1.31" fill="#7d64ac" opacity="0.41"/>
<circle cx="448.1" cy="117.2" r="0.85" fill="#7d64ac" opacity="0.30"/>
<circle cx="418.9" cy="98.9" r="1.09" fill="#7d64ac" opacity="0.70"/>
<circle cx="444.9" cy="120.7" r="0.85" fill="#7d64ac" opacity="0.35"/>
<circle cx="433.8" cy="117.7" r="1.14" fill="#7d64ac" opacity="0.47"/>
<circle cx="443.7" cy="100.6" r="0.78" fill="#7d64ac" opacity="0.42"/>
<circle cx="430.5" cy="134.9" r="0.65" fill="#7d64ac" opacity="0.58"/>
<circle cx="437.7" cy="101.2" r="0.56" fill="#7d64ac" opacity="0.55"/>
<circle cx="435.8" cy="110.8" r="0.88" fill="#7d64ac" opacity="0.54"/>
<circle cx="444.6" cy="105.1" r="0.75" fill="#7d64ac" opacity="0.57"/>
<circle cx="427.5" cy="120.2" r="0.67" fill="#7d64ac" opacity="0.39"/>
<circle cx="429.1" cy="122.3" r="1.12" fill="#7d64ac" opacity="0.63"/>
<circle cx="402.5" cy="114.2" r="1.25" fill="#7d64ac" opacity="0.73"/>
<circle cx="415.3" cy="132.5" r="1.08" fill="#7d64ac" opacity="0.72"/>
<circle cx="410.9" cy="124.8" r="1.26" fill="#7d64ac" opacity="0.51"/>
<circle cx="407.0" cy="120.8" r="0.59" fill="#7d64ac" opacity="0.64"/>
<circle cx="436.2" cy="130.8" r="1.22" fill="#7d64ac" opacity="0.62"/>
<circle cx="430.7" cy="138.3" r="0.59" fill="#7d64ac" opacity="0.35"/>
<circle cx="418.1" cy="112.9" r="1.11" fill="#7d64ac" opacity="0.63"/>
<circle cx="403.6" cy="110.2" r="0.99" fill="#7d64ac" opacity="0.47"/>
<circle cx="405.3" cy="119.9" r="0.84" fill="#7d64ac" opacity="0.61"/>
<circle cx="424.2" cy="138.1" r="1.35" fill="#7d64ac" opacity="0.33"/>
<circle cx="437.4" cy="126.1" r="0.77" fill="#7d64ac" opacity="0.35"/>
<circle cx="423.4" cy="107.7" r="1.16" fill="#7d64ac" opacity="0.71"/>
<circle cx="418.5" cy="104.5" r="0.95" fill="#7d64ac" opacity="0.61"/>
<circle cx="438.9" cy="118.8" r="0.77" fill="#7d64ac" opacity="0.45"/>
<circle cx="441.8" cy="116.0" r="0.55" fill="#7d64ac" opacity="0.49"/>
<circle cx="411.3" cy="123.3" r="0.57" fill="#7d64ac" opacity="0.42"/>
<circle cx="404.2" cy="113.9" r="1.39" fill="#7d64ac" opacity="0.54"/>
<circle cx="418.7" cy="136.7" r="0.58" fill="#7d64ac" opacity="0.46"/>
<circle cx="437.7" cy="108.1" r="0.51" fill="#7d64ac" opacity="0.41"/>
<circle cx="422.3" cy="109.1" r="0.97" fill="#7d64ac" opacity="0.32"/>
<circle cx="421.5" cy="113.6" r="0.58" fill="#7d64ac" opacity="0.43"/>
<circle cx="447.1" cy="124.4" r="0.96" fill="#7d64ac" opacity="0.32"/>
<circle cx="419.0" cy="128.9" r="0.89" fill="#7d64ac" opacity="0.57"/>
<circle cx="444.5" cy="122.3" r="1.07" fill="#7d64ac" opacity="0.32"/>
<circle cx="420.1" cy="133.7" r="1.24" fill="#7d64ac" opacity="0.71"/>
<circle cx="437.2" cy="134.6" r="0.63" fill="#7d64ac" opacity="0.65"/>
<circle cx="420.5" cy="138.6" r="1.39" fill="#7d64ac" opacity="0.40"/>
<circle cx="420.5" cy="103.5" r="0.92" fill="#7d64ac" opacity="0.43"/>
<circle cx="432.7" cy="96.2" r="0.65" fill="#7d64ac" opacity="0.51"/>
<circle cx="403.1" cy="109.1" r="1.31" fill="#7d64ac" opacity="0.70"/>
<circle cx="429.3" cy="96.8" r="0.71" fill="#7d64ac" opacity="0.71"/>
<circle cx="408.6" cy="111.5" r="0.74" fill="#7d64ac" opacity="0.64"/>
<circle cx="418.0" cy="128.8" r="0.64" fill="#7d64ac" opacity="0.53"/>
<circle cx="431.6" cy="108.7" r="0.83" fill="#7d64ac" opacity="0.51"/>
<circle cx="428.5" cy="138.3" r="0.72" fill="#7d64ac" opacity="0.56"/>
<circle cx="412.6" cy="117.3" r="1.16" fill="#7d64ac" opacity="0.36"/>
</g>
<rect x="395.25" y="85.95" width="58.3" height="58.1" fill="none" stroke="#4e474f" stroke-width="1.4"/>
</g>
<g>
<rect x="457.8" y="85.2" width="59.8" height="59.6" fill="#ede0f0" stroke="none" stroke-width="1"/>
<g filter="url(#bl)">
<circle cx="487.7" cy="115.0" r="28.0" fill="#cdbbe6" stroke="#f1e8f5" stroke-width="2.2"/>
<g filter="url(#bl2)">
</g>
<circle cx="503.0" cy="131.7" r="2.47" fill="#9880c6" opacity="0.17"/>
<circle cx="486.2" cy="128.5" r="2.25" fill="#9880c6" opacity="0.29"/>
<circle cx="475.9" cy="130.7" r="2.96" fill="#9880c6" opacity="0.20"/>
<circle cx="489.7" cy="124.5" r="1.89" fill="#9880c6" opacity="0.24"/>
<circle cx="503.6" cy="102.8" r="3.11" fill="#9880c6" opacity="0.27"/>
<circle cx="505.6" cy="106.5" r="1.69" fill="#9880c6" opacity="0.30"/>
<circle cx="503.5" cy="112.2" r="1.69" fill="#9880c6" opacity="0.15"/>
<circle cx="494.7" cy="104.1" r="3.40" fill="#9880c6" opacity="0.25"/>
<circle cx="472.1" cy="123.1" r="2.22" fill="#9880c6" opacity="0.33"/>
<circle cx="509.0" cy="115.8" r="2.79" fill="#9880c6" opacity="0.27"/>
<circle cx="463.2" cy="107.8" r="2.70" fill="#9880c6" opacity="0.18"/>
<circle cx="492.3" cy="93.7" r="3.26" fill="#9880c6" opacity="0.23"/>
<circle cx="467.8" cy="123.5" r="2.12" fill="#9880c6" opacity="0.15"/>
<circle cx="486.9" cy="96.2" r="1.92" fill="#9880c6" opacity="0.32"/>
<circle cx="479.0" cy="136.0" r="2.74" fill="#9880c6" opacity="0.18"/>
<circle cx="481.3" cy="109.2" r="1.75" fill="#9880c6" opacity="0.35"/>
<circle cx="464.5" cy="111.0" r="2.99" fill="#9880c6" opacity="0.20"/>
<circle cx="496.6" cy="135.3" r="2.39" fill="#9880c6" opacity="0.31"/>
<circle cx="503.1" cy="115.9" r="2.44" fill="#9880c6" opacity="0.28"/>
<circle cx="483.0" cy="93.5" r="2.99" fill="#9880c6" opacity="0.17"/>
<circle cx="487.1" cy="129.8" r="1.84" fill="#9880c6" opacity="0.11"/>
<circle cx="468.1" cy="119.6" r="2.22" fill="#9880c6" opacity="0.16"/>
<circle cx="485.2" cy="137.2" r="2.01" fill="#9880c6" opacity="0.20"/>
<circle cx="507.4" cy="120.8" r="2.04" fill="#9880c6" opacity="0.22"/>
<circle cx="486.6" cy="96.4" r="2.25" fill="#9880c6" opacity="0.18"/>
<circle cx="503.5" cy="105.8" r="2.82" fill="#9880c6" opacity="0.34"/>
<circle cx="509.7" cy="108.6" r="2.71" fill="#9880c6" opacity="0.18"/>
<circle cx="482.4" cy="114.4" r="3.09" fill="#9880c6" opacity="0.33"/>
<circle cx="485.1" cy="92.0" r="1.56" fill="#9880c6" opacity="0.29"/>
<circle cx="467.5" cy="126.4" r="2.22" fill="#9880c6" opacity="0.33"/>
<circle cx="493.6" cy="110.9" r="3.06" fill="#9880c6" opacity="0.30"/>
<circle cx="487.3" cy="113.4" r="1.70" fill="#9880c6" opacity="0.19"/>
<circle cx="469.2" cy="121.5" r="2.71" fill="#9880c6" opacity="0.14"/>
<circle cx="494.4" cy="94.1" r="1.71" fill="#9880c6" opacity="0.26"/>
<circle cx="485.8" cy="135.8" r="2.76" fill="#9880c6" opacity="0.28"/>
<circle cx="468.3" cy="132.3" r="1.67" fill="#9880c6" opacity="0.25"/>
<circle cx="508.2" cy="112.5" r="2.89" fill="#9880c6" opacity="0.30"/>
<circle cx="509.0" cy="111.9" r="3.06" fill="#9880c6" opacity="0.21"/>
<circle cx="476.1" cy="126.0" r="1.63" fill="#9880c6" opacity="0.30"/>
<circle cx="506.3" cy="103.6" r="3.43" fill="#9880c6" opacity="0.21"/>
<circle cx="494.9" cy="116.8" r="1.57" fill="#9880c6" opacity="0.14"/>
<circle cx="481.0" cy="91.7" r="3.49" fill="#9880c6" opacity="0.29"/>
<circle cx="511.1" cy="125.4" r="2.19" fill="#9880c6" opacity="0.12"/>
<circle cx="499.7" cy="94.9" r="2.59" fill="#9880c6" opacity="0.22"/>
<circle cx="487.4" cy="92.9" r="1.65" fill="#9880c6" opacity="0.23"/>
<circle cx="463.3" cy="116.3" r="1.80" fill="#9880c6" opacity="0.17"/>
<circle cx="469.6" cy="118.6" r="2.28" fill="#9880c6" opacity="0.16"/>
<circle cx="473.2" cy="118.3" r="3.32" fill="#9880c6" opacity="0.20"/>
<circle cx="470.2" cy="105.5" r="1.98" fill="#9880c6" opacity="0.24"/>
<circle cx="502.6" cy="118.6" r="1.88" fill="#9880c6" opacity="0.18"/>
<circle cx="481.5" cy="111.9" r="2.30" fill="#9880c6" opacity="0.35"/>
<circle cx="490.4" cy="123.4" r="2.93" fill="#9880c6" opacity="0.26"/>
<circle cx="503.6" cy="108.4" r="2.83" fill="#9880c6" opacity="0.34"/>
<circle cx="470.2" cy="121.5" r="2.27" fill="#9880c6" opacity="0.12"/>
<circle cx="467.7" cy="126.0" r="1.70" fill="#9880c6" opacity="0.19"/>
<circle cx="463.4" cy="117.2" r="3.07" fill="#9880c6" opacity="0.16"/>
<circle cx="491.1" cy="137.0" r="2.09" fill="#9880c6" opacity="0.22"/>
<circle cx="499.4" cy="133.9" r="1.84" fill="#9880c6" opacity="0.27"/>
<circle cx="509.5" cy="128.0" r="2.85" fill="#9880c6" opacity="0.28"/>
<circle cx="495.6" cy="103.9" r="2.39" fill="#9880c6" opacity="0.15"/>
<circle cx="506.4" cy="129.5" r="3.08" fill="#9880c6" opacity="0.15"/>
<circle cx="492.5" cy="102.3" r="3.08" fill="#9880c6" opacity="0.29"/>
<circle cx="497.3" cy="129.4" r="1.69" fill="#9880c6" opacity="0.25"/>
<circle cx="463.4" cy="108.1" r="1.73" fill="#9880c6" opacity="0.34"/>
<circle cx="511.0" cy="111.7" r="3.16" fill="#9880c6" opacity="0.11"/>
<circle cx="492.4" cy="103.2" r="1.76" fill="#9880c6" opacity="0.20"/>
<circle cx="481.7" cy="119.9" r="2.63" fill="#9880c6" opacity="0.26"/>
<circle cx="486.7" cy="103.0" r="1.77" fill="#9880c6" opacity="0.32"/>
<circle cx="471.7" cy="112.3" r="3.12" fill="#9880c6" opacity="0.24"/>
<circle cx="488.4" cy="95.2" r="2.69" fill="#9880c6" opacity="0.22"/>
<circle cx="506.5" cy="116.6" r="2.89" fill="#9880c6" opacity="0.30"/>
<circle cx="486.2" cy="132.8" r="3.30" fill="#9880c6" opacity="0.14"/>
<circle cx="506.2" cy="106.6" r="2.00" fill="#9880c6" opacity="0.13"/>
<circle cx="481.0" cy="133.5" r="2.23" fill="#9880c6" opacity="0.10"/>
<circle cx="477.6" cy="93.3" r="2.75" fill="#9880c6" opacity="0.29"/>
<circle cx="481.5" cy="95.5" r="3.32" fill="#9880c6" opacity="0.31"/>
<circle cx="488.7" cy="138.6" r="2.54" fill="#9880c6" opacity="0.29"/>
<circle cx="487.1" cy="107.9" r="3.49" fill="#9880c6" opacity="0.31"/>
<circle cx="492.5" cy="134.1" r="2.80" fill="#9880c6" opacity="0.30"/>
<circle cx="467.4" cy="120.4" r="2.94" fill="#9880c6" opacity="0.14"/>
<circle cx="488.0" cy="94.9" r="2.88" fill="#9880c6" opacity="0.29"/>
<circle cx="496.3" cy="95.5" r="2.20" fill="#9880c6" opacity="0.14"/>
<circle cx="499.6" cy="136.7" r="1.85" fill="#9880c6" opacity="0.15"/>
<circle cx="494.4" cy="133.7" r="2.98" fill="#9880c6" opacity="0.21"/>
<circle cx="467.4" cy="120.9" r="2.41" fill="#9880c6" opacity="0.30"/>
<circle cx="491.4" cy="127.2" r="3.44" fill="#9880c6" opacity="0.26"/>
<circle cx="509.1" cy="103.2" r="1.50" fill="#9880c6" opacity="0.32"/>
<circle cx="485.4" cy="92.2" r="2.05" fill="#9880c6" opacity="0.28"/>
<circle cx="481.7" cy="121.4" r="1.70" fill="#9880c6" opacity="0.31"/>
<circle cx="481.1" cy="132.3" r="1.79" fill="#9880c6" opacity="0.27"/>
<circle cx="486.1" cy="110.0" r="1.54" fill="#9880c6" opacity="0.23"/>
<circle cx="484.9" cy="89.6" r="3.49" fill="#9880c6" opacity="0.34"/>
<circle cx="497.0" cy="114.0" r="1.64" fill="#9880c6" opacity="0.13"/>
<circle cx="498.4" cy="130.3" r="3.48" fill="#9880c6" opacity="0.32"/>
<circle cx="484.5" cy="102.3" r="2.58" fill="#9880c6" opacity="0.19"/>
<circle cx="490.0" cy="135.0" r="2.41" fill="#9880c6" opacity="0.35"/>
<circle cx="500.5" cy="123.4" r="2.74" fill="#9880c6" opacity="0.10"/>
<circle cx="507.4" cy="114.8" r="2.57" fill="#9880c6" opacity="0.14"/>
<circle cx="472.6" cy="104.8" r="1.81" fill="#9880c6" opacity="0.11"/>
<circle cx="499.5" cy="125.5" r="3.26" fill="#9880c6" opacity="0.15"/>
<circle cx="499.6" cy="119.9" r="1.68" fill="#9880c6" opacity="0.32"/>
<circle cx="480.3" cy="98.6" r="1.87" fill="#9880c6" opacity="0.33"/>
<circle cx="473.2" cy="109.0" r="2.59" fill="#9880c6" opacity="0.19"/>
<circle cx="495.8" cy="93.6" r="2.36" fill="#9880c6" opacity="0.25"/>
<circle cx="493.9" cy="120.7" r="2.04" fill="#9880c6" opacity="0.26"/>
<circle cx="512.3" cy="114.1" r="2.79" fill="#9880c6" opacity="0.31"/>
<circle cx="474.8" cy="102.8" r="3.44" fill="#9880c6" opacity="0.18"/>
<circle cx="483.9" cy="108.3" r="3.49" fill="#9880c6" opacity="0.24"/>
<circle cx="476.1" cy="122.8" r="2.14" fill="#9880c6" opacity="0.27"/>
<circle cx="488.1" cy="93.1" r="1.72" fill="#9880c6" opacity="0.21"/>
<circle cx="489.4" cy="98.2" r="0.74" fill="#9880c6" opacity="0.25"/>
<circle cx="475.5" cy="105.1" r="0.85" fill="#9880c6" opacity="0.46"/>
<circle cx="506.0" cy="126.3" r="1.17" fill="#9880c6" opacity="0.35"/>
<circle cx="487.5" cy="126.8" r="1.30" fill="#9880c6" opacity="0.33"/>
<circle cx="488.5" cy="134.4" r="0.64" fill="#9880c6" opacity="0.52"/>
<circle cx="495.0" cy="133.9" r="1.31" fill="#9880c6" opacity="0.29"/>
<circle cx="503.0" cy="96.0" r="0.61" fill="#9880c6" opacity="0.39"/>
<circle cx="487.1" cy="92.6" r="0.75" fill="#9880c6" opacity="0.31"/>
<circle cx="478.7" cy="110.8" r="1.13" fill="#9880c6" opacity="0.46"/>
<circle cx="487.1" cy="105.8" r="1.05" fill="#9880c6" opacity="0.32"/>
<circle cx="496.5" cy="96.2" r="0.70" fill="#9880c6" opacity="0.37"/>
<circle cx="491.0" cy="122.7" r="1.03" fill="#9880c6" opacity="0.46"/>
<circle cx="500.0" cy="110.2" r="0.86" fill="#9880c6" opacity="0.45"/>
<circle cx="467.9" cy="122.5" r="1.31" fill="#9880c6" opacity="0.38"/>
<circle cx="487.6" cy="102.2" r="1.32" fill="#9880c6" opacity="0.38"/>
<circle cx="480.5" cy="126.1" r="0.84" fill="#9880c6" opacity="0.57"/>
<circle cx="483.1" cy="119.6" r="0.77" fill="#9880c6" opacity="0.46"/>
<circle cx="486.3" cy="94.4" r="1.30" fill="#9880c6" opacity="0.31"/>
<circle cx="491.6" cy="124.2" r="0.92" fill="#9880c6" opacity="0.36"/>
<circle cx="493.3" cy="114.0" r="1.07" fill="#9880c6" opacity="0.47"/>
<circle cx="488.5" cy="107.3" r="0.83" fill="#9880c6" opacity="0.57"/>
<circle cx="486.7" cy="92.7" r="1.03" fill="#9880c6" opacity="0.29"/>
<circle cx="479.7" cy="122.8" r="1.05" fill="#9880c6" opacity="0.44"/>
<circle cx="504.8" cy="120.6" r="1.37" fill="#9880c6" opacity="0.53"/>
<circle cx="475.4" cy="129.6" r="0.82" fill="#9880c6" opacity="0.58"/>
<circle cx="493.9" cy="110.7" r="0.66" fill="#9880c6" opacity="0.55"/>
<circle cx="495.2" cy="118.2" r="0.94" fill="#9880c6" opacity="0.58"/>
<circle cx="486.2" cy="99.7" r="1.40" fill="#9880c6" opacity="0.29"/>
<circle cx="512.5" cy="110.7" r="0.82" fill="#9880c6" opacity="0.38"/>
<circle cx="481.0" cy="128.3" r="1.07" fill="#9880c6" opacity="0.35"/>
<circle cx="471.6" cy="131.4" r="1.01" fill="#9880c6" opacity="0.43"/>
<circle cx="489.2" cy="136.7" r="1.11" fill="#9880c6" opacity="0.47"/>
<circle cx="465.9" cy="124.1" r="1.10" fill="#9880c6" opacity="0.32"/>
<circle cx="491.3" cy="114.1" r="0.80" fill="#9880c6" opacity="0.48"/>
<circle cx="484.6" cy="128.9" r="1.19" fill="#9880c6" opacity="0.25"/>
<circle cx="478.7" cy="117.2" r="0.77" fill="#9880c6" opacity="0.46"/>
<circle cx="488.3" cy="100.2" r="0.69" fill="#9880c6" opacity="0.39"/>
<circle cx="492.6" cy="123.0" r="1.04" fill="#9880c6" opacity="0.42"/>
<circle cx="484.2" cy="134.2" r="1.28" fill="#9880c6" opacity="0.56"/>
<circle cx="510.7" cy="123.9" r="0.68" fill="#9880c6" opacity="0.50"/>
<circle cx="476.4" cy="104.6" r="0.86" fill="#9880c6" opacity="0.26"/>
<circle cx="484.5" cy="99.2" r="0.71" fill="#9880c6" opacity="0.40"/>
<circle cx="501.0" cy="122.9" r="0.78" fill="#9880c6" opacity="0.50"/>
<circle cx="482.8" cy="107.6" r="0.87" fill="#9880c6" opacity="0.35"/>
<circle cx="492.7" cy="123.1" r="1.05" fill="#9880c6" opacity="0.43"/>
<circle cx="465.1" cy="116.8" r="0.92" fill="#9880c6" opacity="0.25"/>
<circle cx="472.7" cy="104.9" r="1.37" fill="#9880c6" opacity="0.54"/>
<circle cx="463.8" cy="109.2" r="0.82" fill="#9880c6" opacity="0.30"/>
<circle cx="509.4" cy="103.0" r="1.20" fill="#9880c6" opacity="0.30"/>
<circle cx="494.6" cy="93.5" r="1.08" fill="#9880c6" opacity="0.46"/>
<circle cx="509.1" cy="101.6" r="1.06" fill="#9880c6" opacity="0.32"/>
<circle cx="463.1" cy="107.4" r="0.78" fill="#9880c6" opacity="0.32"/>
<circle cx="506.2" cy="128.2" r="0.84" fill="#9880c6" opacity="0.45"/>
<circle cx="495.8" cy="133.3" r="1.05" fill="#9880c6" opacity="0.43"/>
<circle cx="474.6" cy="97.8" r="0.66" fill="#9880c6" opacity="0.38"/>
<circle cx="476.6" cy="129.5" r="0.64" fill="#9880c6" opacity="0.29"/>
<circle cx="503.2" cy="112.5" r="0.60" fill="#9880c6" opacity="0.54"/>
<circle cx="463.8" cy="108.4" r="0.86" fill="#9880c6" opacity="0.43"/>
<circle cx="491.9" cy="106.0" r="1.07" fill="#9880c6" opacity="0.38"/>
<circle cx="490.8" cy="120.0" r="0.72" fill="#9880c6" opacity="0.55"/>
<circle cx="483.7" cy="115.4" r="0.60" fill="#9880c6" opacity="0.43"/>
<circle cx="479.0" cy="120.8" r="1.12" fill="#9880c6" opacity="0.29"/>
<circle cx="472.4" cy="124.3" r="1.16" fill="#9880c6" opacity="0.52"/>
<circle cx="497.8" cy="125.7" r="1.19" fill="#9880c6" opacity="0.46"/>
<circle cx="472.1" cy="97.3" r="0.51" fill="#9880c6" opacity="0.48"/>
<circle cx="474.5" cy="96.6" r="0.84" fill="#9880c6" opacity="0.58"/>
<circle cx="474.0" cy="134.8" r="1.07" fill="#9880c6" opacity="0.52"/>
<circle cx="467.7" cy="130.8" r="0.86" fill="#9880c6" opacity="0.51"/>
<circle cx="464.2" cy="104.4" r="1.01" fill="#9880c6" opacity="0.35"/>
<circle cx="489.7" cy="94.5" r="0.73" fill="#9880c6" opacity="0.47"/>
<circle cx="480.7" cy="104.9" r="0.86" fill="#9880c6" opacity="0.47"/>
<circle cx="472.1" cy="119.5" r="1.28" fill="#9880c6" opacity="0.34"/>
<circle cx="473.8" cy="115.6" r="1.26" fill="#9880c6" opacity="0.55"/>
<circle cx="506.2" cy="126.1" r="0.57" fill="#9880c6" opacity="0.57"/>
<circle cx="488.0" cy="89.9" r="0.54" fill="#9880c6" opacity="0.32"/>
<circle cx="473.3" cy="94.4" r="0.69" fill="#9880c6" opacity="0.47"/>
<circle cx="497.6" cy="105.8" r="1.20" fill="#9880c6" opacity="0.27"/>
<circle cx="463.0" cy="107.9" r="1.09" fill="#9880c6" opacity="0.55"/>
<circle cx="512.1" cy="120.8" r="0.89" fill="#9880c6" opacity="0.27"/>
<circle cx="491.3" cy="136.6" r="1.21" fill="#9880c6" opacity="0.41"/>
<circle cx="495.1" cy="129.1" r="1.39" fill="#9880c6" opacity="0.50"/>
<circle cx="492.4" cy="138.9" r="1.37" fill="#9880c6" opacity="0.25"/>
<circle cx="503.5" cy="108.4" r="0.60" fill="#9880c6" opacity="0.50"/>
<circle cx="472.1" cy="107.0" r="0.87" fill="#9880c6" opacity="0.36"/>
<circle cx="499.9" cy="99.0" r="1.23" fill="#9880c6" opacity="0.41"/>
<circle cx="484.0" cy="106.2" r="1.33" fill="#9880c6" opacity="0.33"/>
<circle cx="483.3" cy="102.6" r="0.61" fill="#9880c6" opacity="0.26"/>
<circle cx="497.1" cy="131.3" r="0.79" fill="#9880c6" opacity="0.40"/>
<circle cx="476.0" cy="127.3" r="0.72" fill="#9880c6" opacity="0.34"/>
<circle cx="489.2" cy="103.2" r="0.64" fill="#9880c6" opacity="0.27"/>
<circle cx="474.3" cy="95.1" r="0.97" fill="#9880c6" opacity="0.44"/>
<circle cx="510.4" cy="109.0" r="0.62" fill="#9880c6" opacity="0.55"/>
<circle cx="469.4" cy="101.7" r="0.70" fill="#9880c6" opacity="0.55"/>
<circle cx="511.9" cy="108.8" r="1.07" fill="#9880c6" opacity="0.50"/>
<circle cx="485.3" cy="131.0" r="0.78" fill="#9880c6" opacity="0.51"/>
<circle cx="470.3" cy="96.4" r="0.64" fill="#9880c6" opacity="0.31"/>
<circle cx="506.9" cy="127.8" r="1.10" fill="#9880c6" opacity="0.60"/>
<circle cx="490.3" cy="113.5" r="1.22" fill="#9880c6" opacity="0.27"/>
<circle cx="470.4" cy="100.2" r="0.97" fill="#9880c6" opacity="0.42"/>
<circle cx="492.6" cy="115.6" r="1.25" fill="#9880c6" opacity="0.47"/>
<circle cx="507.1" cy="132.2" r="0.82" fill="#9880c6" opacity="0.56"/>
<circle cx="494.0" cy="90.1" r="0.80" fill="#9880c6" opacity="0.49"/>
<circle cx="498.0" cy="125.5" r="1.20" fill="#9880c6" opacity="0.50"/>
<circle cx="508.9" cy="102.3" r="1.32" fill="#9880c6" opacity="0.56"/>
<circle cx="503.9" cy="100.9" r="1.04" fill="#9880c6" opacity="0.55"/>
<circle cx="505.8" cy="100.1" r="0.54" fill="#9880c6" opacity="0.44"/>
<circle cx="465.9" cy="116.2" r="0.61" fill="#9880c6" opacity="0.29"/>
<circle cx="507.3" cy="121.3" r="0.56" fill="#9880c6" opacity="0.44"/>
<circle cx="476.9" cy="112.4" r="1.18" fill="#9880c6" opacity="0.56"/>
<circle cx="504.9" cy="122.0" r="1.02" fill="#9880c6" opacity="0.47"/>
<circle cx="482.8" cy="132.8" r="1.36" fill="#9880c6" opacity="0.35"/>
<circle cx="474.2" cy="111.1" r="0.83" fill="#9880c6" opacity="0.44"/>
<circle cx="510.5" cy="105.8" r="1.34" fill="#9880c6" opacity="0.35"/>
<circle cx="481.0" cy="128.0" r="1.11" fill="#9880c6" opacity="0.57"/>
<circle cx="493.7" cy="104.4" r="1.23" fill="#9880c6" opacity="0.34"/>
<circle cx="506.4" cy="125.3" r="1.10" fill="#9880c6" opacity="0.46"/>
<circle cx="472.1" cy="113.9" r="1.40" fill="#9880c6" opacity="0.54"/>
<circle cx="483.7" cy="112.2" r="0.88" fill="#9880c6" opacity="0.38"/>
<circle cx="481.0" cy="99.9" r="1.33" fill="#9880c6" opacity="0.26"/>
<circle cx="469.4" cy="120.7" r="1.26" fill="#9880c6" opacity="0.49"/>
<circle cx="469.0" cy="114.6" r="1.39" fill="#9880c6" opacity="0.55"/>
<circle cx="506.1" cy="99.3" r="0.54" fill="#9880c6" opacity="0.39"/>
<circle cx="471.2" cy="133.2" r="0.77" fill="#9880c6" opacity="0.53"/>
<circle cx="489.9" cy="123.1" r="0.95" fill="#9880c6" opacity="0.47"/>
<circle cx="493.0" cy="137.0" r="0.95" fill="#9880c6" opacity="0.55"/>
<circle cx="488.4" cy="93.6" r="1.05" fill="#9880c6" opacity="0.56"/>
<circle cx="483.9" cy="111.1" r="1.06" fill="#9880c6" opacity="0.34"/>
<circle cx="473.3" cy="115.0" r="0.60" fill="#9880c6" opacity="0.41"/>
<circle cx="484.8" cy="113.5" r="0.91" fill="#9880c6" opacity="0.45"/>
<circle cx="502.1" cy="134.7" r="0.89" fill="#9880c6" opacity="0.49"/>
<circle cx="476.5" cy="99.6" r="0.93" fill="#9880c6" opacity="0.35"/>
<circle cx="477.8" cy="123.2" r="1.00" fill="#9880c6" opacity="0.31"/>
<circle cx="474.6" cy="126.5" r="0.80" fill="#9880c6" opacity="0.50"/>
<circle cx="505.8" cy="103.6" r="1.26" fill="#9880c6" opacity="0.29"/>
<circle cx="504.1" cy="123.8" r="1.38" fill="#9880c6" opacity="0.39"/>
<circle cx="508.1" cy="114.0" r="0.58" fill="#9880c6" opacity="0.57"/>
<circle cx="469.9" cy="122.5" r="1.12" fill="#9880c6" opacity="0.48"/>
<circle cx="495.7" cy="138.3" r="1.11" fill="#9880c6" opacity="0.27"/>
<circle cx="491.1" cy="138.2" r="1.22" fill="#9880c6" opacity="0.40"/>
<circle cx="489.7" cy="128.1" r="1.21" fill="#9880c6" opacity="0.27"/>
<circle cx="476.3" cy="109.4" r="0.51" fill="#9880c6" opacity="0.48"/>
<circle cx="493.6" cy="103.4" r="1.03" fill="#9880c6" opacity="0.59"/>
<circle cx="485.8" cy="99.0" r="0.91" fill="#9880c6" opacity="0.49"/>
<circle cx="470.6" cy="123.0" r="1.06" fill="#9880c6" opacity="0.25"/>
<circle cx="487.7" cy="90.3" r="1.01" fill="#9880c6" opacity="0.33"/>
<circle cx="467.8" cy="110.8" r="1.08" fill="#9880c6" opacity="0.27"/>
<circle cx="502.4" cy="109.4" r="1.01" fill="#9880c6" opacity="0.44"/>
<circle cx="487.2" cy="94.5" r="0.55" fill="#9880c6" opacity="0.35"/>
<circle cx="466.2" cy="120.0" r="0.96" fill="#9880c6" opacity="0.33"/>
<circle cx="497.5" cy="136.8" r="1.38" fill="#9880c6" opacity="0.44"/>
<circle cx="477.3" cy="115.0" r="0.67" fill="#9880c6" opacity="0.52"/>
<circle cx="509.0" cy="126.0" r="0.81" fill="#9880c6" opacity="0.52"/>
<circle cx="482.2" cy="98.5" r="0.89" fill="#9880c6" opacity="0.34"/>
<circle cx="505.1" cy="111.1" r="0.52" fill="#9880c6" opacity="0.54"/>
<circle cx="480.9" cy="95.9" r="1.09" fill="#9880c6" opacity="0.42"/>
<circle cx="485.0" cy="106.5" r="0.65" fill="#9880c6" opacity="0.56"/>
<circle cx="486.1" cy="125.0" r="0.82" fill="#9880c6" opacity="0.58"/>
<circle cx="506.5" cy="118.4" r="1.29" fill="#9880c6" opacity="0.58"/>
<circle cx="471.6" cy="102.2" r="1.35" fill="#9880c6" opacity="0.37"/>
<circle cx="495.7" cy="123.5" r="1.13" fill="#9880c6" opacity="0.55"/>
<circle cx="494.2" cy="95.0" r="0.55" fill="#9880c6" opacity="0.30"/>
<circle cx="501.2" cy="97.0" r="0.51" fill="#9880c6" opacity="0.36"/>
<circle cx="475.5" cy="131.7" r="1.20" fill="#9880c6" opacity="0.25"/>
<circle cx="481.4" cy="120.9" r="0.77" fill="#9880c6" opacity="0.58"/>
<circle cx="477.4" cy="137.5" r="1.38" fill="#9880c6" opacity="0.30"/>
<circle cx="472.9" cy="126.9" r="0.87" fill="#9880c6" opacity="0.32"/>
<circle cx="496.9" cy="124.0" r="0.52" fill="#9880c6" opacity="0.41"/>
<circle cx="490.1" cy="104.9" r="0.73" fill="#9880c6" opacity="0.56"/>
<circle cx="485.1" cy="92.1" r="0.64" fill="#9880c6" opacity="0.39"/>
<circle cx="488.3" cy="135.4" r="0.70" fill="#9880c6" opacity="0.32"/>
<circle cx="491.1" cy="111.5" r="0.59" fill="#9880c6" opacity="0.28"/>
<circle cx="496.7" cy="124.4" r="0.69" fill="#9880c6" opacity="0.31"/>
<circle cx="467.5" cy="108.7" r="1.30" fill="#9880c6" opacity="0.50"/>
<circle cx="504.6" cy="128.0" r="0.90" fill="#9880c6" opacity="0.25"/>
<circle cx="510.3" cy="110.5" r="1.23" fill="#9880c6" opacity="0.36"/>
<circle cx="469.2" cy="121.2" r="0.65" fill="#9880c6" opacity="0.55"/>
<circle cx="488.1" cy="108.4" r="0.81" fill="#9880c6" opacity="0.49"/>
<circle cx="478.4" cy="104.3" r="1.27" fill="#9880c6" opacity="0.46"/>
<circle cx="466.7" cy="129.8" r="0.89" fill="#9880c6" opacity="0.33"/>
<circle cx="474.2" cy="129.7" r="0.68" fill="#9880c6" opacity="0.47"/>
<circle cx="470.7" cy="109.3" r="1.03" fill="#9880c6" opacity="0.33"/>
<circle cx="463.2" cy="111.0" r="1.07" fill="#9880c6" opacity="0.27"/>
<circle cx="484.9" cy="105.7" r="1.13" fill="#9880c6" opacity="0.27"/>
<circle cx="503.4" cy="122.6" r="1.19" fill="#9880c6" opacity="0.48"/>
<circle cx="471.8" cy="97.9" r="0.58" fill="#9880c6" opacity="0.49"/>
<circle cx="505.8" cy="97.5" r="0.80" fill="#9880c6" opacity="0.57"/>
<circle cx="474.6" cy="122.8" r="0.50" fill="#9880c6" opacity="0.39"/>
<circle cx="485.5" cy="101.2" r="0.81" fill="#9880c6" opacity="0.26"/>
<circle cx="484.5" cy="99.4" r="0.96" fill="#9880c6" opacity="0.38"/>
<circle cx="505.2" cy="124.8" r="1.30" fill="#9880c6" opacity="0.45"/>
<circle cx="474.3" cy="131.1" r="1.11" fill="#9880c6" opacity="0.33"/>
<circle cx="511.5" cy="125.2" r="0.94" fill="#9880c6" opacity="0.34"/>
<circle cx="473.4" cy="135.7" r="0.78" fill="#9880c6" opacity="0.59"/>
<circle cx="487.3" cy="97.1" r="0.56" fill="#9880c6" opacity="0.60"/>
<circle cx="468.9" cy="118.6" r="1.09" fill="#9880c6" opacity="0.37"/>
<circle cx="469.9" cy="117.1" r="0.93" fill="#9880c6" opacity="0.41"/>
<circle cx="470.1" cy="96.5" r="0.87" fill="#9880c6" opacity="0.34"/>
<circle cx="498.7" cy="118.1" r="0.86" fill="#9880c6" opacity="0.43"/>
<circle cx="498.4" cy="132.2" r="1.35" fill="#9880c6" opacity="0.43"/>
<circle cx="484.8" cy="106.0" r="0.96" fill="#9880c6" opacity="0.35"/>
<circle cx="487.4" cy="126.5" r="1.18" fill="#9880c6" opacity="0.35"/>
<circle cx="498.0" cy="128.4" r="0.80" fill="#9880c6" opacity="0.45"/>
<circle cx="497.0" cy="91.5" r="1.16" fill="#9880c6" opacity="0.38"/>
<circle cx="480.2" cy="129.7" r="0.69" fill="#9880c6" opacity="0.25"/>
<circle cx="489.2" cy="101.8" r="1.33" fill="#9880c6" opacity="0.35"/>
<circle cx="504.7" cy="109.1" r="1.24" fill="#9880c6" opacity="0.53"/>
<circle cx="503.0" cy="127.1" r="1.33" fill="#9880c6" opacity="0.57"/>
<circle cx="494.7" cy="136.0" r="0.70" fill="#9880c6" opacity="0.28"/>
<circle cx="504.3" cy="117.1" r="1.07" fill="#9880c6" opacity="0.25"/>
<circle cx="471.6" cy="129.4" r="0.64" fill="#9880c6" opacity="0.55"/>
<circle cx="468.0" cy="124.4" r="1.32" fill="#9880c6" opacity="0.27"/>
<circle cx="483.0" cy="93.1" r="1.32" fill="#9880c6" opacity="0.30"/>
<circle cx="505.7" cy="129.6" r="1.22" fill="#9880c6" opacity="0.58"/>
<circle cx="502.2" cy="106.4" r="1.37" fill="#9880c6" opacity="0.37"/>
<circle cx="475.8" cy="115.6" r="0.87" fill="#9880c6" opacity="0.47"/>
<circle cx="484.7" cy="111.2" r="1.01" fill="#9880c6" opacity="0.59"/>
<circle cx="484.7" cy="130.8" r="1.14" fill="#9880c6" opacity="0.37"/>
<circle cx="470.6" cy="117.8" r="0.92" fill="#9880c6" opacity="0.36"/>
<circle cx="487.7" cy="110.3" r="0.89" fill="#9880c6" opacity="0.42"/>
<circle cx="509.4" cy="123.9" r="1.31" fill="#9880c6" opacity="0.51"/>
<circle cx="486.2" cy="102.3" r="1.12" fill="#9880c6" opacity="0.48"/>
<circle cx="512.1" cy="124.0" r="1.21" fill="#9880c6" opacity="0.36"/>
<circle cx="480.5" cy="118.2" r="0.58" fill="#9880c6" opacity="0.36"/>
<circle cx="494.1" cy="108.7" r="1.08" fill="#9880c6" opacity="0.59"/>
<circle cx="479.7" cy="118.0" r="0.83" fill="#9880c6" opacity="0.31"/>
<circle cx="501.1" cy="105.9" r="0.90" fill="#9880c6" opacity="0.29"/>
<circle cx="474.8" cy="135.3" r="1.23" fill="#9880c6" opacity="0.59"/>
<circle cx="488.9" cy="99.8" r="1.02" fill="#9880c6" opacity="0.33"/>
<circle cx="477.3" cy="105.9" r="1.14" fill="#9880c6" opacity="0.51"/>
<circle cx="475.5" cy="132.8" r="1.26" fill="#9880c6" opacity="0.30"/>
<circle cx="465.3" cy="116.3" r="0.67" fill="#9880c6" opacity="0.60"/>
<circle cx="471.5" cy="123.1" r="0.58" fill="#9880c6" opacity="0.47"/>
<circle cx="477.7" cy="102.0" r="0.92" fill="#9880c6" opacity="0.34"/>
<circle cx="497.4" cy="134.3" r="0.75" fill="#9880c6" opacity="0.38"/>
<circle cx="487.3" cy="135.2" r="0.59" fill="#9880c6" opacity="0.33"/>
<circle cx="477.8" cy="130.8" r="1.28" fill="#9880c6" opacity="0.56"/>
<circle cx="484.7" cy="107.3" r="0.77" fill="#9880c6" opacity="0.41"/>
<circle cx="506.3" cy="103.7" r="1.35" fill="#9880c6" opacity="0.55"/>
<circle cx="469.8" cy="101.8" r="1.10" fill="#9880c6" opacity="0.31"/>
<circle cx="463.7" cy="107.6" r="0.89" fill="#9880c6" opacity="0.36"/>
<circle cx="492.7" cy="124.8" r="1.33" fill="#9880c6" opacity="0.48"/>
<circle cx="496.3" cy="114.0" r="0.71" fill="#9880c6" opacity="0.26"/>
<circle cx="468.6" cy="102.7" r="0.67" fill="#9880c6" opacity="0.46"/>
<circle cx="486.9" cy="101.5" r="0.94" fill="#9880c6" opacity="0.54"/>
<circle cx="487.8" cy="138.6" r="1.18" fill="#9880c6" opacity="0.34"/>
<circle cx="488.6" cy="100.5" r="0.63" fill="#9880c6" opacity="0.29"/>
<circle cx="501.3" cy="100.1" r="1.34" fill="#9880c6" opacity="0.28"/>
<circle cx="497.6" cy="104.4" r="0.63" fill="#9880c6" opacity="0.46"/>
<circle cx="498.2" cy="106.3" r="0.79" fill="#9880c6" opacity="0.30"/>
<circle cx="495.3" cy="110.9" r="1.35" fill="#9880c6" opacity="0.52"/>
<circle cx="494.8" cy="132.4" r="1.36" fill="#9880c6" opacity="0.42"/>
<circle cx="489.9" cy="95.3" r="0.94" fill="#9880c6" opacity="0.36"/>
<circle cx="475.4" cy="134.3" r="0.74" fill="#9880c6" opacity="0.58"/>
<circle cx="494.3" cy="110.2" r="0.83" fill="#9880c6" opacity="0.43"/>
<circle cx="500.0" cy="126.0" r="0.62" fill="#9880c6" opacity="0.41"/>
<circle cx="495.6" cy="98.9" r="0.75" fill="#9880c6" opacity="0.58"/>
<circle cx="466.2" cy="105.9" r="0.80" fill="#9880c6" opacity="0.45"/>
<circle cx="500.7" cy="105.4" r="0.75" fill="#9880c6" opacity="0.55"/>
<circle cx="492.4" cy="120.0" r="1.37" fill="#9880c6" opacity="0.33"/>
<circle cx="484.4" cy="119.3" r="0.77" fill="#9880c6" opacity="0.26"/>
</g>
<rect x="458.55" y="85.95" width="58.3" height="58.1" fill="none" stroke="#4e474f" stroke-width="1.4"/>
</g>
<text x="82.0" y="194.8" font-family="Liberation Sans" font-weight="bold" stroke="#000" stroke-width="0.6" font-size="13.8" text-anchor="start" >D</text>
<line x1="123.4" y1="190.3" x2="123.4" y2="248.4" stroke="#9a9a9a" stroke-width="1"/>
<line x1="123.4" y1="255.8" x2="123.4" y2="320.0" stroke="#9a9a9a" stroke-width="1"/>
<line x1="123.4" y1="190.3" x2="253.5" y2="190.3" stroke="#9a9a9a" stroke-width="1"/>
<line x1="253.5" y1="190.3" x2="253.5" y2="320.0" stroke="#9a9a9a" stroke-width="1"/>
<line x1="123.4" y1="320.0" x2="253.5" y2="320.0" stroke="#9a9a9a" stroke-width="1"/>
<line x1="120.8" y1="190.3" x2="123.4" y2="190.3" stroke="#9a9a9a" stroke-width="1"/>
<text x="120.6" y="193.3" font-family="Liberation Sans" font-weight="bold" stroke="#000" stroke-width="0.4" font-size="8.5" text-anchor="end" >1500</text>
<line x1="120.8" y1="214.20000000000002" x2="123.4" y2="214.20000000000002" stroke="#9a9a9a" stroke-width="1"/>
<text x="120.6" y="217.20000000000002" font-family="Liberation Sans" font-weight="bold" stroke="#000" stroke-width="0.4" font-size="8.5" text-anchor="end" >1000</text>
<line x1="120.8" y1="238.10000000000002" x2="123.4" y2="238.10000000000002" stroke="#9a9a9a" stroke-width="1"/>
<text x="120.6" y="241.10000000000002" font-family="Liberation Sans" font-weight="bold" stroke="#000" stroke-width="0.4" font-size="8.5" text-anchor="end" >500</text>
<line x1="120.8" y1="320.0" x2="123.4" y2="320.0" stroke="#9a9a9a" stroke-width="1"/>
<text x="120.6" y="323.0" font-family="Liberation Sans" font-weight="bold" stroke="#000" stroke-width="0.4" font-size="8.5" text-anchor="end" >0</text>
<line x1="120.8" y1="307.16" x2="123.4" y2="307.16" stroke="#9a9a9a" stroke-width="1"/>
<text x="120.6" y="310.16" font-family="Liberation Sans" font-weight="bold" stroke="#000" stroke-width="0.4" font-size="8.5" text-anchor="end" >20</text>
<line x1="120.8" y1="294.32" x2="123.4" y2="294.32" stroke="#9a9a9a" stroke-width="1"/>
<text x="120.6" y="297.32" font-family="Liberation Sans" font-weight="bold" stroke="#000" stroke-width="0.4" font-size="8.5" text-anchor="end" >40</text>
<line x1="120.8" y1="281.48" x2="123.4" y2="281.48" stroke="#9a9a9a" stroke-width="1"/>
<text x="120.6" y="284.48" font-family="Liberation Sans" font-weight="bold" stroke="#000" stroke-width="0.4" font-size="8.5" text-anchor="end" >60</text>
<line x1="120.8" y1="268.64" x2="123.4" y2="268.64" stroke="#9a9a9a" stroke-width="1"/>
<text x="120.6" y="271.64" font-family="Liberation Sans" font-weight="bold" stroke="#000" stroke-width="0.4" font-size="8.5" text-anchor="end" >80</text>
<line x1="120.8" y1="255.8" x2="123.4" y2="255.8" stroke="#9a9a9a" stroke-width="1"/>
<text x="120.6" y="258.8" font-family="Liberation Sans" font-weight="bold" stroke="#000" stroke-width="0.4" font-size="8.5" text-anchor="end" >100</text>
<line x1="134.29999999999998" y1="318.0" x2="134.29999999999998" y2="318.6" stroke="#777" stroke-width="0.9"/>
<line x1="132.1" y1="318.0" x2="136.49999999999997" y2="318.0" stroke="#777" stroke-width="0.9"/>
<line x1="144.9" y1="314.8" x2="144.9" y2="316.9" stroke="#555" stroke-width="0.9"/>
<line x1="142.70000000000002" y1="314.8" x2="147.1" y2="314.8" stroke="#555" stroke-width="0.9"/>
<rect x="129.4" y="319.0" width="9.799999999999999" height="0.9999999999999772" fill="#fff" stroke="#888" stroke-width="0.8"/>
<rect x="140.0" y="317.29999999999995" width="9.799999999999999" height="2.700000000000023" fill="#000" stroke="#000" stroke-width="0.8"/>
<line x1="167.0" y1="266.2" x2="167.0" y2="274.7" stroke="#777" stroke-width="0.9"/>
<line x1="164.8" y1="266.2" x2="169.2" y2="266.2" stroke="#777" stroke-width="0.9"/>
<line x1="177.60000000000002" y1="286.0" x2="177.60000000000002" y2="292.5" stroke="#555" stroke-width="0.9"/>
<line x1="175.40000000000003" y1="286.0" x2="179.8" y2="286.0" stroke="#555" stroke-width="0.9"/>
<rect x="162.10000000000002" y="275.09999999999997" width="9.799999999999999" height="44.90000000000001" fill="#fff" stroke="#888" stroke-width="0.8"/>
<rect x="172.70000000000002" y="292.9" width="9.799999999999999" height="27.1" fill="#000" stroke="#000" stroke-width="0.8"/>
<line x1="199.2" y1="294.6" x2="199.2" y2="298.0" stroke="#777" stroke-width="0.9"/>
<line x1="197.0" y1="294.6" x2="201.39999999999998" y2="294.6" stroke="#777" stroke-width="0.9"/>
<line x1="209.8" y1="306.1" x2="209.8" y2="309.8" stroke="#555" stroke-width="0.9"/>
<line x1="207.60000000000002" y1="306.1" x2="212.0" y2="306.1" stroke="#555" stroke-width="0.9"/>
<rect x="194.3" y="298.4" width="9.799999999999999" height="21.6" fill="#fff" stroke="#888" stroke-width="0.8"/>
<rect x="204.9" y="310.2" width="9.799999999999999" height="9.799999999999988" fill="#000" stroke="#000" stroke-width="0.8"/>
<line x1="231.5" y1="192.3" x2="231.5" y2="202.5" stroke="#777" stroke-width="0.9"/>
<line x1="229.3" y1="192.3" x2="233.7" y2="192.3" stroke="#777" stroke-width="0.9"/>
<line x1="242.10000000000002" y1="227.1" x2="242.10000000000002" y2="231.5" stroke="#555" stroke-width="0.9"/>
<line x1="239.90000000000003" y1="227.1" x2="244.3" y2="227.1" stroke="#555" stroke-width="0.9"/>
<rect x="226.60000000000002" y="202.9" width="9.799999999999999" height="117.1" fill="#fff" stroke="#888" stroke-width="0.8"/>
<rect x="237.20000000000002" y="231.9" width="9.799999999999999" height="88.1" fill="#000" stroke="#000" stroke-width="0.8"/>
<rect x="225.60000000000002" y="248.6" width="22.4" height="6.1" fill="#fff" stroke="none" stroke-width="1"/>
<line x1="122.0" y1="248.4" x2="124.80000000000001" y2="248.4" stroke="#9a9a9a" stroke-width="1"/>
<line x1="139.6" y1="320.0" x2="139.6" y2="322.5" stroke="#9a9a9a" stroke-width="1"/>
<line x1="172.3" y1="320.0" x2="172.3" y2="322.5" stroke="#9a9a9a" stroke-width="1"/>
<line x1="204.5" y1="320.0" x2="204.5" y2="322.5" stroke="#9a9a9a" stroke-width="1"/>
<line x1="236.8" y1="320.0" x2="236.8" y2="322.5" stroke="#9a9a9a" stroke-width="1"/>
<rect x="136.8" y="198.1" width="12.6" height="4.8" fill="#fff" stroke="#999" stroke-width="0.9"/>
<rect x="136.5" y="206.5" width="13.2" height="4.8" fill="#111" stroke="none" stroke-width="1"/>
<text x="151.0" y="203.2" font-family="Liberation Sans" font-weight="bold" stroke="#000" stroke-width="0.4" font-size="7.4" text-anchor="start" >WT</text>
<text x="151.0" y="211.5" font-family="Liberation Sans" font-weight="bold" stroke="#000" stroke-width="0.4" font-size="7.4" text-anchor="start" >CD3<tspan font-size="5" dy="1">ε</tspan><tspan dy="-1"> KO</tspan></text>
<text transform="translate(100.6,255.0) rotate(-90)" font-family="Liberation Sans" font-weight="bold" stroke="#000" stroke-width="0.3" font-size="8.2" text-anchor="middle">anti-PS3 ASC/10<tspan font-size="5.4" dy="-3">6</tspan><tspan dy="3"> cells</tspan></text>
<text x="109.6" y="331.8" font-family="Liberation Sans" font-weight="bold" stroke="#000" stroke-width="0.4" font-size="8.6" text-anchor="end" >PS3</text>
<text x="121.9" y="342.6" font-family="Liberation Sans" font-weight="bold" stroke="#000" stroke-width="0.4" font-size="8.8" text-anchor="end" >CpG1668</text>
<text x="140.2" y="330.8" font-family="Liberation Sans" font-weight="bold" stroke="#000" stroke-width="0.4" font-size="8.5" text-anchor="middle" >-</text>
<text x="140.2" y="343.0" font-family="Liberation Sans" font-weight="bold" stroke="#000" stroke-width="0.4" font-size="8.8" text-anchor="middle" >-</text>
<text x="172.3" y="330.8" font-family="Liberation Sans" font-weight="bold" stroke="#000" stroke-width="0.4" font-size="8.5" text-anchor="middle" >+</text>
<text x="172.3" y="343.0" font-family="Liberation Sans" font-weight="bold" stroke="#000" stroke-width="0.4" font-size="8.8" text-anchor="middle" >-</text>
<text x="204.3" y="330.8" font-family="Liberation Sans" font-weight="bold" stroke="#000" stroke-width="0.4" font-size="8.5" text-anchor="middle" >+</text>
<text x="204.3" y="343.0" font-family="Liberation Sans" font-weight="bold" stroke="#000" stroke-width="0.4" font-size="8.8" text-anchor="middle" >d0</text>
<text x="237.0" y="330.8" font-family="Liberation Sans" font-weight="bold" stroke="#000" stroke-width="0.4" font-size="8.5" text-anchor="middle" >+</text>
<text x="237.0" y="343.0" font-family="Liberation Sans" font-weight="bold" stroke="#000" stroke-width="0.4" font-size="8.8" text-anchor="middle" >d2</text>
<text x="279.2" y="195.0" font-family="Liberation Sans" font-weight="bold" stroke="#000" stroke-width="0.6" font-size="13.8" text-anchor="start" >E</text>
<line x1="324.8" y1="189.4" x2="324.8" y2="248.2" stroke="#9a9a9a" stroke-width="1"/>
<line x1="324.8" y1="254.3" x2="324.8" y2="319.7" stroke="#9a9a9a" stroke-width="1"/>
<line x1="324.8" y1="189.4" x2="455.2" y2="189.4" stroke="#9a9a9a" stroke-width="1"/>
<line x1="455.2" y1="189.4" x2="455.2" y2="319.7" stroke="#9a9a9a" stroke-width="1"/>
<line x1="324.8" y1="319.7" x2="455.2" y2="319.7" stroke="#9a9a9a" stroke-width="1"/>
<line x1="322.3" y1="202.3" x2="324.8" y2="202.3" stroke="#9a9a9a" stroke-width="1"/>
<text x="321.6" y="205.3" font-family="Liberation Sans" font-weight="bold" stroke="#000" stroke-width="0.4" font-size="8.5" text-anchor="end" >9500</text>
<line x1="322.3" y1="219.2" x2="324.8" y2="219.2" stroke="#9a9a9a" stroke-width="1"/>
<text x="321.6" y="222.2" font-family="Liberation Sans" font-weight="bold" stroke="#000" stroke-width="0.4" font-size="8.5" text-anchor="end" >7500</text>
<line x1="322.3" y1="236.1" x2="324.8" y2="236.1" stroke="#9a9a9a" stroke-width="1"/>
<text x="321.6" y="239.1" font-family="Liberation Sans" font-weight="bold" stroke="#000" stroke-width="0.4" font-size="8.5" text-anchor="end" >5500</text>
<line x1="322.3" y1="319.7" x2="324.8" y2="319.7" stroke="#9a9a9a" stroke-width="1"/>
<text x="321.6" y="322.7" font-family="Liberation Sans" font-weight="bold" stroke="#000" stroke-width="0.4" font-size="8.5" text-anchor="end" >0</text>
<line x1="322.3" y1="297.9" x2="324.8" y2="297.9" stroke="#9a9a9a" stroke-width="1"/>
<text x="321.6" y="300.9" font-family="Liberation Sans" font-weight="bold" stroke="#000" stroke-width="0.4" font-size="8.5" text-anchor="end" >500</text>
<line x1="322.3" y1="276.1" x2="324.8" y2="276.1" stroke="#9a9a9a" stroke-width="1"/>
<text x="321.6" y="279.1" font-family="Liberation Sans" font-weight="bold" stroke="#000" stroke-width="0.4" font-size="8.5" text-anchor="end" >1000</text>
<line x1="322.3" y1="254.3" x2="324.8" y2="254.3" stroke="#9a9a9a" stroke-width="1"/>
<text x="321.6" y="257.3" font-family="Liberation Sans" font-weight="bold" stroke="#000" stroke-width="0.4" font-size="8.5" text-anchor="end" >1500</text>
<line x1="334.7" y1="317.6" x2="334.7" y2="318.2" stroke="#777" stroke-width="0.9"/>
<line x1="332.5" y1="317.6" x2="336.9" y2="317.6" stroke="#777" stroke-width="0.9"/>
<line x1="345.7" y1="318.8" x2="345.7" y2="319.0" stroke="#555" stroke-width="0.9"/>
<line x1="343.5" y1="318.8" x2="347.9" y2="318.8" stroke="#555" stroke-width="0.9"/>
<rect x="329.59999999999997" y="318.59999999999997" width="10.2" height="1.1" fill="#fff" stroke="#888" stroke-width="0.8"/>
<rect x="340.59999999999997" y="319.4" width="10.2" height="0.2999999999999886" fill="#000" stroke="#000" stroke-width="0.8"/>
<line x1="367.8" y1="265.1" x2="367.8" y2="269.2" stroke="#777" stroke-width="0.9"/>
<line x1="365.6" y1="265.1" x2="370.0" y2="265.1" stroke="#777" stroke-width="0.9"/>
<line x1="378.8" y1="279.3" x2="378.8" y2="284.0" stroke="#555" stroke-width="0.9"/>
<line x1="376.6" y1="279.3" x2="381.0" y2="279.3" stroke="#555" stroke-width="0.9"/>
<rect x="362.7" y="269.59999999999997" width="10.2" height="50.1" fill="#fff" stroke="#888" stroke-width="0.8"/>
<rect x="373.7" y="284.4" width="10.2" height="35.29999999999999" fill="#000" stroke="#000" stroke-width="0.8"/>
<line x1="400.8" y1="308.5" x2="400.8" y2="309.4" stroke="#777" stroke-width="0.9"/>
<line x1="398.6" y1="308.5" x2="403.0" y2="308.5" stroke="#777" stroke-width="0.9"/>
<line x1="411.8" y1="312.5" x2="411.8" y2="313.8" stroke="#555" stroke-width="0.9"/>
<line x1="409.6" y1="312.5" x2="414.0" y2="312.5" stroke="#555" stroke-width="0.9"/>
<rect x="395.7" y="309.79999999999995" width="10.2" height="9.900000000000011" fill="#fff" stroke="#888" stroke-width="0.8"/>
<rect x="406.7" y="314.2" width="10.2" height="5.499999999999977" fill="#000" stroke="#000" stroke-width="0.8"/>
<line x1="433.9" y1="192.1" x2="433.9" y2="200.9" stroke="#777" stroke-width="0.9"/>
<line x1="431.7" y1="192.1" x2="436.09999999999997" y2="192.1" stroke="#777" stroke-width="0.9"/>
<line x1="444.9" y1="214.8" x2="444.9" y2="229.4" stroke="#555" stroke-width="0.9"/>
<line x1="442.7" y1="214.8" x2="447.09999999999997" y2="214.8" stroke="#555" stroke-width="0.9"/>
<rect x="428.79999999999995" y="201.3" width="10.2" height="118.39999999999998" fill="#fff" stroke="#888" stroke-width="0.8"/>
<rect x="439.79999999999995" y="229.8" width="10.2" height="89.89999999999998" fill="#000" stroke="#000" stroke-width="0.8"/>
<rect x="427.79999999999995" y="248.2" width="23.2" height="6.0" fill="#fff" stroke="none" stroke-width="1"/>
<line x1="323.40000000000003" y1="248.2" x2="326.2" y2="248.2" stroke="#9a9a9a" stroke-width="1"/>
<line x1="340.2" y1="319.7" x2="340.2" y2="322.2" stroke="#9a9a9a" stroke-width="1"/>
<line x1="373.3" y1="319.7" x2="373.3" y2="322.2" stroke="#9a9a9a" stroke-width="1"/>
<line x1="406.3" y1="319.7" x2="406.3" y2="322.2" stroke="#9a9a9a" stroke-width="1"/>
<line x1="439.4" y1="319.7" x2="439.4" y2="322.2" stroke="#9a9a9a" stroke-width="1"/>
<rect x="334.0" y="196.3" width="12.2" height="4.9" fill="#fff" stroke="#999" stroke-width="0.9"/>
<rect x="333.7" y="205.5" width="12.7" height="4.9" fill="#111" stroke="none" stroke-width="1"/>
<text x="348.4" y="201.6" font-family="Liberation Sans" font-weight="bold" stroke="#000" stroke-width="0.4" font-size="7.4" text-anchor="start" letter-spacing="0.3">WT</text>
<text x="348.4" y="210.6" font-family="Liberation Sans" font-weight="bold" stroke="#000" stroke-width="0.4" font-size="7.4" text-anchor="start" >CD3<tspan font-size="5" dy="1">ε</tspan><tspan dy="-1"> KO</tspan></text>
<text transform="translate(297.2,254.0) rotate(-90)" font-family="Liberation Sans" font-weight="bold" stroke="#000" stroke-width="0.3" font-size="8.44" text-anchor="middle">anti-PS3 IgM Titer</text>
<text x="310.6" y="330.9" font-family="Liberation Sans" font-weight="bold" stroke="#000" stroke-width="0.4" font-size="8.6" text-anchor="end" >PS3</text>
<text x="323.8" y="342.4" font-family="Liberation Sans" font-weight="bold" stroke="#000" stroke-width="0.4" font-size="8.8" text-anchor="end" >CpG1668</text>
<text x="341.2" y="330.2" font-family="Liberation Sans" font-weight="bold" stroke="#000" stroke-width="0.4" font-size="8.5" text-anchor="middle" >-</text>
<text x="341.2" y="342.6" font-family="Liberation Sans" font-weight="bold" stroke="#000" stroke-width="0.4" font-size="8.8" text-anchor="middle" >-</text>
<text x="373.9" y="330.2" font-family="Liberation Sans" font-weight="bold" stroke="#000" stroke-width="0.4" font-size="8.5" text-anchor="middle" >+</text>
<text x="373.9" y="342.6" font-family="Liberation Sans" font-weight="bold" stroke="#000" stroke-width="0.4" font-size="8.8" text-anchor="middle" >-</text>
<text x="406.3" y="330.2" font-family="Liberation Sans" font-weight="bold" stroke="#000" stroke-width="0.4" font-size="8.5" text-anchor="middle" >+</text>
<text x="406.3" y="342.6" font-family="Liberation Sans" font-weight="bold" stroke="#000" stroke-width="0.4" font-size="8.8" text-anchor="middle" >d0</text>
<text x="439.2" y="330.2" font-family="Liberation Sans" font-weight="bold" stroke="#000" stroke-width="0.4" font-size="8.5" text-anchor="middle" >+</text>
<text x="439.2" y="342.6" font-family="Liberation Sans" font-weight="bold" stroke="#000" stroke-width="0.4" font-size="8.8" text-anchor="middle" >d2</text>
</svg>
</body></html>
